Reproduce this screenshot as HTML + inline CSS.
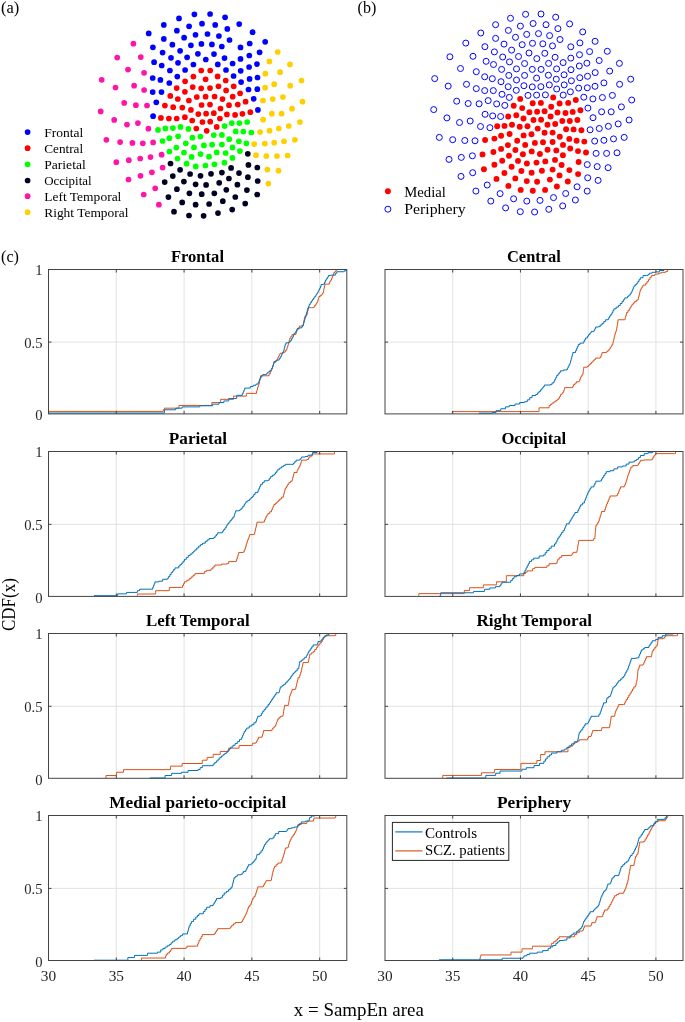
<!DOCTYPE html>
<html><head><meta charset="utf-8"><style>
html,body{margin:0;padding:0;background:#fff;}
body{width:685px;height:1022px;overflow:hidden;font-family:"Liberation Serif",serif;}
svg{display:block;will-change:transform;}
</style></head><body>
<svg width="685" height="1022" viewBox="0 0 685 1022" font-family="'Liberation Serif', serif"><text x="1.0" y="12.7" font-size="16.5" textLength="18.3" lengthAdjust="spacingAndGlyphs" fill="#000">(a)</text>
<text x="357.6" y="12.7" font-size="16.5" textLength="18.7" lengthAdjust="spacingAndGlyphs" fill="#000">(b)</text>
<text x="1.0" y="261.8" font-size="16.5" textLength="18.0" lengthAdjust="spacingAndGlyphs" fill="#000">(c)</text>
<circle cx="194.4" cy="14.3" r="2.85" fill="#0000ff"/>
<circle cx="210.1" cy="14.0" r="2.85" fill="#0000ff"/>
<circle cx="179.0" cy="18.4" r="2.85" fill="#0000ff"/>
<circle cx="225.1" cy="17.3" r="2.85" fill="#0000ff"/>
<circle cx="163.8" cy="24.9" r="2.85" fill="#0000ff"/>
<circle cx="189.1" cy="26.3" r="2.85" fill="#0000ff"/>
<circle cx="202.0" cy="23.7" r="2.85" fill="#0000ff"/>
<circle cx="215.2" cy="24.9" r="2.85" fill="#0000ff"/>
<circle cx="227.3" cy="28.9" r="2.85" fill="#0000ff"/>
<circle cx="176.9" cy="30.7" r="2.85" fill="#0000ff"/>
<circle cx="148.7" cy="33.4" r="2.85" fill="#0000ff"/>
<circle cx="195.5" cy="34.8" r="2.85" fill="#0000ff"/>
<circle cx="207.5" cy="34.0" r="2.85" fill="#0000ff"/>
<circle cx="218.9" cy="36.0" r="2.85" fill="#0000ff"/>
<circle cx="163.8" cy="38.9" r="2.85" fill="#0000ff"/>
<circle cx="184.1" cy="37.7" r="2.85" fill="#0000ff"/>
<circle cx="229.5" cy="40.0" r="2.85" fill="#0000ff"/>
<circle cx="172.4" cy="44.7" r="2.85" fill="#0000ff"/>
<circle cx="190.9" cy="45.3" r="2.85" fill="#0000ff"/>
<circle cx="201.4" cy="43.9" r="2.85" fill="#0000ff"/>
<circle cx="211.9" cy="44.4" r="2.85" fill="#0000ff"/>
<circle cx="221.8" cy="46.5" r="2.85" fill="#0000ff"/>
<circle cx="152.9" cy="47.3" r="2.85" fill="#0000ff"/>
<circle cx="180.1" cy="50.8" r="2.85" fill="#0000ff"/>
<circle cx="162.6" cy="52.6" r="2.85" fill="#0000ff"/>
<circle cx="197.9" cy="53.8" r="2.85" fill="#0000ff"/>
<circle cx="214.0" cy="54.1" r="2.85" fill="#0000ff"/>
<circle cx="171.0" cy="57.8" r="2.85" fill="#0000ff"/>
<circle cx="187.1" cy="57.3" r="2.85" fill="#0000ff"/>
<circle cx="205.8" cy="59.5" r="2.85" fill="#0000ff"/>
<circle cx="224.5" cy="58.1" r="2.85" fill="#0000ff"/>
<circle cx="154.1" cy="62.2" r="2.85" fill="#0000ff"/>
<circle cx="178.0" cy="62.8" r="2.85" fill="#0000ff"/>
<circle cx="193.4" cy="64.5" r="2.85" fill="#0000ff"/>
<circle cx="217.8" cy="64.4" r="2.85" fill="#0000ff"/>
<circle cx="161.7" cy="65.5" r="2.85" fill="#0000ff"/>
<circle cx="239.2" cy="24.1" r="2.85" fill="#0000ff"/>
<circle cx="252.6" cy="32.2" r="2.85" fill="#0000ff"/>
<circle cx="249.7" cy="43.5" r="2.85" fill="#0000ff"/>
<circle cx="265.2" cy="41.8" r="2.85" fill="#0000ff"/>
<circle cx="240.5" cy="47.4" r="2.85" fill="#0000ff"/>
<circle cx="259.6" cy="52.3" r="2.85" fill="#0000ff"/>
<circle cx="249.3" cy="55.5" r="2.85" fill="#0000ff"/>
<circle cx="240.5" cy="58.9" r="2.85" fill="#0000ff"/>
<circle cx="232.6" cy="63.5" r="2.85" fill="#0000ff"/>
<circle cx="256.9" cy="64.1" r="2.85" fill="#0000ff"/>
<circle cx="133.4" cy="43.7" r="2.85" fill="#ff14aa"/>
<circle cx="117.2" cy="57.6" r="2.85" fill="#ff14aa"/>
<circle cx="140.8" cy="57.1" r="2.85" fill="#ff14aa"/>
<circle cx="128.0" cy="69.6" r="2.85" fill="#ff14aa"/>
<circle cx="144.1" cy="72.8" r="2.85" fill="#ff14aa"/>
<circle cx="101.7" cy="79.8" r="2.85" fill="#ff14aa"/>
<circle cx="115.5" cy="87.5" r="2.85" fill="#ff14aa"/>
<circle cx="134.1" cy="85.7" r="2.85" fill="#ff14aa"/>
<circle cx="144.1" cy="90.0" r="2.85" fill="#ff14aa"/>
<circle cx="124.2" cy="102.9" r="2.85" fill="#ff14aa"/>
<circle cx="135.9" cy="105.2" r="2.85" fill="#ff14aa"/>
<circle cx="147.0" cy="105.5" r="2.85" fill="#ff14aa"/>
<circle cx="100.7" cy="111.4" r="2.85" fill="#ff14aa"/>
<circle cx="169.9" cy="70.5" r="2.85" fill="#0000ff"/>
<circle cx="152.7" cy="78.0" r="2.85" fill="#0000ff"/>
<circle cx="160.4" cy="79.9" r="2.85" fill="#0000ff"/>
<circle cx="152.7" cy="92.1" r="2.85" fill="#0000ff"/>
<circle cx="161.5" cy="92.1" r="2.85" fill="#0000ff"/>
<circle cx="156.3" cy="102.3" r="2.85" fill="#0000ff"/>
<circle cx="185.1" cy="70.0" r="2.85" fill="#0000ff"/>
<circle cx="226.0" cy="70.0" r="2.85" fill="#0000ff"/>
<circle cx="240.7" cy="70.8" r="2.85" fill="#0000ff"/>
<circle cx="177.3" cy="76.6" r="2.85" fill="#0000ff"/>
<circle cx="233.6" cy="76.0" r="2.85" fill="#0000ff"/>
<circle cx="169.3" cy="83.0" r="2.85" fill="#0000ff"/>
<circle cx="241.1" cy="82.1" r="2.85" fill="#0000ff"/>
<circle cx="249.1" cy="67.0" r="2.85" fill="#0000ff"/>
<circle cx="257.5" cy="77.5" r="2.85" fill="#0000ff"/>
<circle cx="249.6" cy="78.9" r="2.85" fill="#0000ff"/>
<circle cx="248.5" cy="89.5" r="2.85" fill="#0000ff"/>
<circle cx="257.3" cy="89.2" r="2.85" fill="#0000ff"/>
<circle cx="253.7" cy="98.8" r="2.85" fill="#0000ff"/>
<circle cx="257.9" cy="109.9" r="2.85" fill="#0000ff"/>
<circle cx="153.1" cy="116.2" r="2.85" fill="#0000ff"/>
<circle cx="201.2" cy="70.5" r="2.85" fill="#ff0000"/>
<circle cx="210.2" cy="70.5" r="2.85" fill="#ff0000"/>
<circle cx="193.4" cy="76.6" r="2.85" fill="#ff0000"/>
<circle cx="217.6" cy="76.4" r="2.85" fill="#ff0000"/>
<circle cx="185.1" cy="81.3" r="2.85" fill="#ff0000"/>
<circle cx="205.6" cy="79.3" r="2.85" fill="#ff0000"/>
<circle cx="225.7" cy="80.5" r="2.85" fill="#ff0000"/>
<circle cx="176.7" cy="88.1" r="2.85" fill="#ff0000"/>
<circle cx="192.7" cy="87.1" r="2.85" fill="#ff0000"/>
<circle cx="201.2" cy="88.3" r="2.85" fill="#ff0000"/>
<circle cx="210.0" cy="88.1" r="2.85" fill="#ff0000"/>
<circle cx="218.5" cy="86.3" r="2.85" fill="#ff0000"/>
<circle cx="233.7" cy="86.3" r="2.85" fill="#ff0000"/>
<circle cx="184.9" cy="91.8" r="2.85" fill="#ff0000"/>
<circle cx="226.1" cy="90.4" r="2.85" fill="#ff0000"/>
<circle cx="240.1" cy="93.3" r="2.85" fill="#ff0000"/>
<circle cx="170.3" cy="95.9" r="2.85" fill="#ff0000"/>
<circle cx="196.8" cy="97.0" r="2.85" fill="#ff0000"/>
<circle cx="205.6" cy="96.7" r="2.85" fill="#ff0000"/>
<circle cx="214.6" cy="96.5" r="2.85" fill="#ff0000"/>
<circle cx="177.8" cy="99.0" r="2.85" fill="#ff0000"/>
<circle cx="188.9" cy="100.5" r="2.85" fill="#ff0000"/>
<circle cx="222.5" cy="99.1" r="2.85" fill="#ff0000"/>
<circle cx="232.7" cy="96.7" r="2.85" fill="#ff0000"/>
<circle cx="245.6" cy="101.7" r="2.85" fill="#ff0000"/>
<circle cx="164.9" cy="105.6" r="2.85" fill="#ff0000"/>
<circle cx="173.2" cy="107.2" r="2.85" fill="#ff0000"/>
<circle cx="182.3" cy="107.6" r="2.85" fill="#ff0000"/>
<circle cx="201.6" cy="105.0" r="2.85" fill="#ff0000"/>
<circle cx="210.0" cy="104.6" r="2.85" fill="#ff0000"/>
<circle cx="229.0" cy="105.2" r="2.85" fill="#ff0000"/>
<circle cx="237.8" cy="104.6" r="2.85" fill="#ff0000"/>
<circle cx="190.9" cy="109.9" r="2.85" fill="#ff0000"/>
<circle cx="220.5" cy="108.5" r="2.85" fill="#ff0000"/>
<circle cx="198.3" cy="114.1" r="2.85" fill="#ff0000"/>
<circle cx="206.1" cy="113.7" r="2.85" fill="#ff0000"/>
<circle cx="213.8" cy="113.2" r="2.85" fill="#ff0000"/>
<circle cx="226.9" cy="114.4" r="2.85" fill="#ff0000"/>
<circle cx="235.1" cy="114.9" r="2.85" fill="#ff0000"/>
<circle cx="242.4" cy="113.8" r="2.85" fill="#ff0000"/>
<circle cx="250.3" cy="112.2" r="2.85" fill="#ff0000"/>
<circle cx="160.9" cy="117.9" r="2.85" fill="#ff0000"/>
<circle cx="168.9" cy="118.5" r="2.85" fill="#ff0000"/>
<circle cx="176.7" cy="118.5" r="2.85" fill="#ff0000"/>
<circle cx="184.9" cy="117.2" r="2.85" fill="#ff0000"/>
<circle cx="192.2" cy="120.5" r="2.85" fill="#ff0000"/>
<circle cx="202.4" cy="122.0" r="2.85" fill="#ff0000"/>
<circle cx="210.2" cy="121.7" r="2.85" fill="#ff0000"/>
<circle cx="219.9" cy="118.5" r="2.85" fill="#ff0000"/>
<circle cx="196.3" cy="128.5" r="2.85" fill="#ff0000"/>
<circle cx="206.7" cy="130.8" r="2.85" fill="#ff0000"/>
<circle cx="216.7" cy="126.9" r="2.85" fill="#ff0000"/>
<circle cx="269.4" cy="61.4" r="2.85" fill="#ffd000"/>
<circle cx="277.7" cy="52.0" r="2.85" fill="#ffd000"/>
<circle cx="290.0" cy="64.4" r="2.85" fill="#ffd000"/>
<circle cx="265.3" cy="73.7" r="2.85" fill="#ffd000"/>
<circle cx="280.1" cy="72.2" r="2.85" fill="#ffd000"/>
<circle cx="301.5" cy="80.5" r="2.85" fill="#ffd000"/>
<circle cx="274.2" cy="84.2" r="2.85" fill="#ffd000"/>
<circle cx="290.2" cy="85.7" r="2.85" fill="#ffd000"/>
<circle cx="265.1" cy="87.7" r="2.85" fill="#ffd000"/>
<circle cx="282.9" cy="97.0" r="2.85" fill="#ffd000"/>
<circle cx="272.7" cy="99.1" r="2.85" fill="#ffd000"/>
<circle cx="263.0" cy="100.5" r="2.85" fill="#ffd000"/>
<circle cx="302.5" cy="101.7" r="2.85" fill="#ffd000"/>
<circle cx="292.0" cy="108.7" r="2.85" fill="#ffd000"/>
<circle cx="271.9" cy="113.7" r="2.85" fill="#ffd000"/>
<circle cx="281.6" cy="113.7" r="2.85" fill="#ffd000"/>
<circle cx="263.1" cy="119.7" r="2.85" fill="#ffd000"/>
<circle cx="299.9" cy="122.0" r="2.85" fill="#ffd000"/>
<circle cx="260.1" cy="132.0" r="2.85" fill="#ffd000"/>
<circle cx="269.5" cy="130.7" r="2.85" fill="#ffd000"/>
<circle cx="278.8" cy="128.5" r="2.85" fill="#ffd000"/>
<circle cx="288.8" cy="126.0" r="2.85" fill="#ffd000"/>
<circle cx="254.2" cy="144.1" r="2.85" fill="#ffd000"/>
<circle cx="264.8" cy="143.6" r="2.85" fill="#ffd000"/>
<circle cx="274.2" cy="142.7" r="2.85" fill="#ffd000"/>
<circle cx="284.0" cy="141.3" r="2.85" fill="#ffd000"/>
<circle cx="294.9" cy="139.8" r="2.85" fill="#ffd000"/>
<circle cx="256.0" cy="155.2" r="2.85" fill="#ffd000"/>
<circle cx="266.3" cy="156.1" r="2.85" fill="#ffd000"/>
<circle cx="277.0" cy="156.1" r="2.85" fill="#ffd000"/>
<circle cx="287.6" cy="155.5" r="2.85" fill="#ffd000"/>
<circle cx="267.4" cy="169.6" r="2.85" fill="#ffd000"/>
<circle cx="278.5" cy="170.7" r="2.85" fill="#ffd000"/>
<circle cx="268.3" cy="183.6" r="2.85" fill="#ffd000"/>
<circle cx="114.2" cy="119.9" r="2.85" fill="#ff14aa"/>
<circle cx="127.0" cy="124.6" r="2.85" fill="#ff14aa"/>
<circle cx="137.9" cy="123.1" r="2.85" fill="#ff14aa"/>
<circle cx="148.4" cy="128.7" r="2.85" fill="#ff14aa"/>
<circle cx="106.4" cy="139.8" r="2.85" fill="#ff14aa"/>
<circle cx="120.1" cy="142.1" r="2.85" fill="#ff14aa"/>
<circle cx="132.4" cy="142.9" r="2.85" fill="#ff14aa"/>
<circle cx="142.8" cy="143.3" r="2.85" fill="#ff14aa"/>
<circle cx="153.1" cy="142.4" r="2.85" fill="#ff14aa"/>
<circle cx="161.6" cy="154.7" r="2.85" fill="#ff14aa"/>
<circle cx="116.3" cy="162.2" r="2.85" fill="#ff14aa"/>
<circle cx="128.8" cy="160.2" r="2.85" fill="#ff14aa"/>
<circle cx="140.2" cy="158.5" r="2.85" fill="#ff14aa"/>
<circle cx="150.5" cy="157.1" r="2.85" fill="#ff14aa"/>
<circle cx="162.6" cy="167.6" r="2.85" fill="#ff14aa"/>
<circle cx="151.9" cy="172.3" r="2.85" fill="#ff14aa"/>
<circle cx="140.5" cy="175.8" r="2.85" fill="#ff14aa"/>
<circle cx="128.5" cy="179.5" r="2.85" fill="#ff14aa"/>
<circle cx="155.2" cy="188.3" r="2.85" fill="#ff14aa"/>
<circle cx="143.7" cy="194.5" r="2.85" fill="#ff14aa"/>
<circle cx="158.9" cy="204.7" r="2.85" fill="#ff14aa"/>
<circle cx="158.0" cy="129.9" r="2.85" fill="#00ff00"/>
<circle cx="165.4" cy="128.4" r="2.85" fill="#00ff00"/>
<circle cx="162.6" cy="141.0" r="2.85" fill="#00ff00"/>
<circle cx="172.9" cy="128.1" r="2.85" fill="#00ff00"/>
<circle cx="180.5" cy="126.9" r="2.85" fill="#00ff00"/>
<circle cx="188.4" cy="128.9" r="2.85" fill="#00ff00"/>
<circle cx="224.6" cy="126.1" r="2.85" fill="#00ff00"/>
<circle cx="231.8" cy="123.1" r="2.85" fill="#00ff00"/>
<circle cx="239.4" cy="123.1" r="2.85" fill="#00ff00"/>
<circle cx="235.7" cy="131.4" r="2.85" fill="#00ff00"/>
<circle cx="243.3" cy="131.6" r="2.85" fill="#00ff00"/>
<circle cx="169.4" cy="138.2" r="2.85" fill="#00ff00"/>
<circle cx="178.1" cy="136.3" r="2.85" fill="#00ff00"/>
<circle cx="192.4" cy="137.7" r="2.85" fill="#00ff00"/>
<circle cx="200.4" cy="136.6" r="2.85" fill="#00ff00"/>
<circle cx="213.8" cy="135.1" r="2.85" fill="#00ff00"/>
<circle cx="221.9" cy="134.9" r="2.85" fill="#00ff00"/>
<circle cx="229.2" cy="139.2" r="2.85" fill="#00ff00"/>
<circle cx="238.9" cy="141.3" r="2.85" fill="#00ff00"/>
<circle cx="185.8" cy="143.3" r="2.85" fill="#00ff00"/>
<circle cx="203.9" cy="145.4" r="2.85" fill="#00ff00"/>
<circle cx="212.1" cy="144.7" r="2.85" fill="#00ff00"/>
<circle cx="221.9" cy="144.5" r="2.85" fill="#00ff00"/>
<circle cx="176.3" cy="147.6" r="2.85" fill="#00ff00"/>
<circle cx="194.0" cy="147.4" r="2.85" fill="#00ff00"/>
<circle cx="232.5" cy="147.4" r="2.85" fill="#00ff00"/>
<circle cx="169.4" cy="151.5" r="2.85" fill="#00ff00"/>
<circle cx="184.0" cy="152.6" r="2.85" fill="#00ff00"/>
<circle cx="200.6" cy="154.1" r="2.85" fill="#00ff00"/>
<circle cx="216.7" cy="152.4" r="2.85" fill="#00ff00"/>
<circle cx="225.7" cy="153.0" r="2.85" fill="#00ff00"/>
<circle cx="239.9" cy="151.1" r="2.85" fill="#00ff00"/>
<circle cx="177.5" cy="158.5" r="2.85" fill="#00ff00"/>
<circle cx="191.6" cy="156.9" r="2.85" fill="#00ff00"/>
<circle cx="209.0" cy="156.7" r="2.85" fill="#00ff00"/>
<circle cx="232.4" cy="157.9" r="2.85" fill="#00ff00"/>
<circle cx="186.6" cy="163.7" r="2.85" fill="#00ff00"/>
<circle cx="195.7" cy="166.4" r="2.85" fill="#00ff00"/>
<circle cx="205.5" cy="165.5" r="2.85" fill="#00ff00"/>
<circle cx="214.5" cy="164.3" r="2.85" fill="#00ff00"/>
<circle cx="224.4" cy="162.7" r="2.85" fill="#00ff00"/>
<circle cx="247.2" cy="122.0" r="2.85" fill="#00ff00"/>
<circle cx="251.3" cy="132.5" r="2.85" fill="#00ff00"/>
<circle cx="246.4" cy="143.3" r="2.85" fill="#00ff00"/>
<circle cx="170.5" cy="163.5" r="2.85" fill="#000022"/>
<circle cx="180.1" cy="169.8" r="2.85" fill="#000022"/>
<circle cx="231.1" cy="167.9" r="2.85" fill="#000022"/>
<circle cx="247.8" cy="153.8" r="2.85" fill="#000022"/>
<circle cx="248.4" cy="164.9" r="2.85" fill="#000022"/>
<circle cx="257.3" cy="167.5" r="2.85" fill="#000022"/>
<circle cx="172.8" cy="176.1" r="2.85" fill="#000022"/>
<circle cx="190.1" cy="174.0" r="2.85" fill="#000022"/>
<circle cx="200.5" cy="175.8" r="2.85" fill="#000022"/>
<circle cx="211.0" cy="173.8" r="2.85" fill="#000022"/>
<circle cx="221.9" cy="172.6" r="2.85" fill="#000022"/>
<circle cx="239.0" cy="173.1" r="2.85" fill="#000022"/>
<circle cx="228.9" cy="178.5" r="2.85" fill="#000022"/>
<circle cx="164.7" cy="182.1" r="2.85" fill="#000022"/>
<circle cx="183.9" cy="181.6" r="2.85" fill="#000022"/>
<circle cx="195.6" cy="184.3" r="2.85" fill="#000022"/>
<circle cx="206.1" cy="184.9" r="2.85" fill="#000022"/>
<circle cx="219.2" cy="182.8" r="2.85" fill="#000022"/>
<circle cx="237.4" cy="184.7" r="2.85" fill="#000022"/>
<circle cx="176.9" cy="189.2" r="2.85" fill="#000022"/>
<circle cx="189.4" cy="193.3" r="2.85" fill="#000022"/>
<circle cx="201.7" cy="194.2" r="2.85" fill="#000022"/>
<circle cx="214.3" cy="193.3" r="2.85" fill="#000022"/>
<circle cx="226.3" cy="189.8" r="2.85" fill="#000022"/>
<circle cx="168.4" cy="197.1" r="2.85" fill="#000022"/>
<circle cx="235.3" cy="197.0" r="2.85" fill="#000022"/>
<circle cx="182.2" cy="202.4" r="2.85" fill="#000022"/>
<circle cx="195.6" cy="204.7" r="2.85" fill="#000022"/>
<circle cx="209.1" cy="204.0" r="2.85" fill="#000022"/>
<circle cx="222.8" cy="201.2" r="2.85" fill="#000022"/>
<circle cx="174.0" cy="211.7" r="2.85" fill="#000022"/>
<circle cx="189.0" cy="215.5" r="2.85" fill="#000022"/>
<circle cx="203.6" cy="215.8" r="2.85" fill="#000022"/>
<circle cx="218.0" cy="213.1" r="2.85" fill="#000022"/>
<circle cx="232.2" cy="209.6" r="2.85" fill="#000022"/>
<circle cx="247.9" cy="177.2" r="2.85" fill="#000022"/>
<circle cx="257.7" cy="181.0" r="2.85" fill="#000022"/>
<circle cx="246.9" cy="190.1" r="2.85" fill="#000022"/>
<circle cx="257.2" cy="194.5" r="2.85" fill="#000022"/>
<circle cx="245.2" cy="203.6" r="2.85" fill="#000022"/>
<circle cx="27.6" cy="132.1" r="2.85" fill="#0000ff"/>
<text x="44.2" y="136.7" font-size="13.3" textLength="39.1" lengthAdjust="spacingAndGlyphs" fill="#000">Frontal</text>
<circle cx="27.6" cy="148.2" r="2.85" fill="#ff0000"/>
<text x="44.2" y="152.79999999999998" font-size="13.3" textLength="39.0" lengthAdjust="spacingAndGlyphs" fill="#000">Central</text>
<circle cx="27.6" cy="164.3" r="2.85" fill="#00ff00"/>
<text x="44.2" y="168.9" font-size="13.3" textLength="41.6" lengthAdjust="spacingAndGlyphs" fill="#000">Parietal</text>
<circle cx="27.6" cy="180.5" r="2.85" fill="#000022"/>
<text x="44.2" y="185.1" font-size="13.3" textLength="47.4" lengthAdjust="spacingAndGlyphs" fill="#000">Occipital</text>
<circle cx="27.6" cy="196.2" r="2.85" fill="#ff14aa"/>
<text x="44.2" y="200.79999999999998" font-size="13.3" textLength="77.2" lengthAdjust="spacingAndGlyphs" fill="#000">Left Temporal</text>
<circle cx="27.6" cy="212.2" r="2.85" fill="#ffd000"/>
<text x="44.2" y="216.79999999999998" font-size="13.3" textLength="84.3" lengthAdjust="spacingAndGlyphs" fill="#000">Right Temporal</text>
<circle cx="525.6" cy="14.3" r="3.0" fill="none" stroke="#0000ff" stroke-width="1"/>
<circle cx="541.0" cy="14.0" r="3.0" fill="none" stroke="#0000ff" stroke-width="1"/>
<circle cx="510.5" cy="18.3" r="3.0" fill="none" stroke="#0000ff" stroke-width="1"/>
<circle cx="555.7" cy="17.2" r="3.0" fill="none" stroke="#0000ff" stroke-width="1"/>
<circle cx="495.6" cy="24.7" r="3.0" fill="none" stroke="#0000ff" stroke-width="1"/>
<circle cx="520.4" cy="26.1" r="3.0" fill="none" stroke="#0000ff" stroke-width="1"/>
<circle cx="533.1" cy="23.5" r="3.0" fill="none" stroke="#0000ff" stroke-width="1"/>
<circle cx="546.0" cy="24.7" r="3.0" fill="none" stroke="#0000ff" stroke-width="1"/>
<circle cx="557.9" cy="28.6" r="3.0" fill="none" stroke="#0000ff" stroke-width="1"/>
<circle cx="508.4" cy="30.4" r="3.0" fill="none" stroke="#0000ff" stroke-width="1"/>
<circle cx="480.8" cy="33.0" r="3.0" fill="none" stroke="#0000ff" stroke-width="1"/>
<circle cx="526.7" cy="34.4" r="3.0" fill="none" stroke="#0000ff" stroke-width="1"/>
<circle cx="538.5" cy="33.6" r="3.0" fill="none" stroke="#0000ff" stroke-width="1"/>
<circle cx="549.6" cy="35.6" r="3.0" fill="none" stroke="#0000ff" stroke-width="1"/>
<circle cx="495.6" cy="38.4" r="3.0" fill="none" stroke="#0000ff" stroke-width="1"/>
<circle cx="515.5" cy="37.3" r="3.0" fill="none" stroke="#0000ff" stroke-width="1"/>
<circle cx="560.0" cy="39.5" r="3.0" fill="none" stroke="#0000ff" stroke-width="1"/>
<circle cx="504.0" cy="44.1" r="3.0" fill="none" stroke="#0000ff" stroke-width="1"/>
<circle cx="522.2" cy="44.7" r="3.0" fill="none" stroke="#0000ff" stroke-width="1"/>
<circle cx="532.5" cy="43.3" r="3.0" fill="none" stroke="#0000ff" stroke-width="1"/>
<circle cx="542.8" cy="43.8" r="3.0" fill="none" stroke="#0000ff" stroke-width="1"/>
<circle cx="552.5" cy="45.9" r="3.0" fill="none" stroke="#0000ff" stroke-width="1"/>
<circle cx="484.9" cy="46.7" r="3.0" fill="none" stroke="#0000ff" stroke-width="1"/>
<circle cx="511.6" cy="50.1" r="3.0" fill="none" stroke="#0000ff" stroke-width="1"/>
<circle cx="494.4" cy="51.9" r="3.0" fill="none" stroke="#0000ff" stroke-width="1"/>
<circle cx="529.0" cy="53.0" r="3.0" fill="none" stroke="#0000ff" stroke-width="1"/>
<circle cx="544.8" cy="53.3" r="3.0" fill="none" stroke="#0000ff" stroke-width="1"/>
<circle cx="502.7" cy="57.0" r="3.0" fill="none" stroke="#0000ff" stroke-width="1"/>
<circle cx="518.5" cy="56.5" r="3.0" fill="none" stroke="#0000ff" stroke-width="1"/>
<circle cx="536.8" cy="58.6" r="3.0" fill="none" stroke="#0000ff" stroke-width="1"/>
<circle cx="555.1" cy="57.3" r="3.0" fill="none" stroke="#0000ff" stroke-width="1"/>
<circle cx="486.1" cy="61.3" r="3.0" fill="none" stroke="#0000ff" stroke-width="1"/>
<circle cx="509.5" cy="61.9" r="3.0" fill="none" stroke="#0000ff" stroke-width="1"/>
<circle cx="524.6" cy="63.5" r="3.0" fill="none" stroke="#0000ff" stroke-width="1"/>
<circle cx="548.6" cy="63.4" r="3.0" fill="none" stroke="#0000ff" stroke-width="1"/>
<circle cx="493.5" cy="64.5" r="3.0" fill="none" stroke="#0000ff" stroke-width="1"/>
<circle cx="569.6" cy="23.9" r="3.0" fill="none" stroke="#0000ff" stroke-width="1"/>
<circle cx="582.7" cy="31.9" r="3.0" fill="none" stroke="#0000ff" stroke-width="1"/>
<circle cx="579.9" cy="42.9" r="3.0" fill="none" stroke="#0000ff" stroke-width="1"/>
<circle cx="595.1" cy="41.3" r="3.0" fill="none" stroke="#0000ff" stroke-width="1"/>
<circle cx="570.8" cy="46.8" r="3.0" fill="none" stroke="#0000ff" stroke-width="1"/>
<circle cx="589.6" cy="51.6" r="3.0" fill="none" stroke="#0000ff" stroke-width="1"/>
<circle cx="579.5" cy="54.7" r="3.0" fill="none" stroke="#0000ff" stroke-width="1"/>
<circle cx="570.8" cy="58.1" r="3.0" fill="none" stroke="#0000ff" stroke-width="1"/>
<circle cx="563.1" cy="62.6" r="3.0" fill="none" stroke="#0000ff" stroke-width="1"/>
<circle cx="586.9" cy="63.2" r="3.0" fill="none" stroke="#0000ff" stroke-width="1"/>
<circle cx="465.8" cy="43.1" r="3.0" fill="none" stroke="#0000ff" stroke-width="1"/>
<circle cx="449.9" cy="56.8" r="3.0" fill="none" stroke="#0000ff" stroke-width="1"/>
<circle cx="473.0" cy="56.3" r="3.0" fill="none" stroke="#0000ff" stroke-width="1"/>
<circle cx="460.5" cy="68.5" r="3.0" fill="none" stroke="#0000ff" stroke-width="1"/>
<circle cx="476.3" cy="71.7" r="3.0" fill="none" stroke="#0000ff" stroke-width="1"/>
<circle cx="434.7" cy="78.6" r="3.0" fill="none" stroke="#0000ff" stroke-width="1"/>
<circle cx="448.2" cy="86.1" r="3.0" fill="none" stroke="#0000ff" stroke-width="1"/>
<circle cx="466.5" cy="84.3" r="3.0" fill="none" stroke="#0000ff" stroke-width="1"/>
<circle cx="476.3" cy="88.6" r="3.0" fill="none" stroke="#0000ff" stroke-width="1"/>
<circle cx="456.7" cy="101.2" r="3.0" fill="none" stroke="#0000ff" stroke-width="1"/>
<circle cx="468.2" cy="103.5" r="3.0" fill="none" stroke="#0000ff" stroke-width="1"/>
<circle cx="479.1" cy="103.8" r="3.0" fill="none" stroke="#0000ff" stroke-width="1"/>
<circle cx="433.7" cy="109.6" r="3.0" fill="none" stroke="#0000ff" stroke-width="1"/>
<circle cx="501.6" cy="69.4" r="3.0" fill="none" stroke="#0000ff" stroke-width="1"/>
<circle cx="484.7" cy="76.8" r="3.0" fill="none" stroke="#0000ff" stroke-width="1"/>
<circle cx="492.3" cy="78.7" r="3.0" fill="none" stroke="#0000ff" stroke-width="1"/>
<circle cx="484.7" cy="90.6" r="3.0" fill="none" stroke="#0000ff" stroke-width="1"/>
<circle cx="493.3" cy="90.6" r="3.0" fill="none" stroke="#0000ff" stroke-width="1"/>
<circle cx="488.2" cy="100.6" r="3.0" fill="none" stroke="#0000ff" stroke-width="1"/>
<circle cx="516.5" cy="68.9" r="3.0" fill="none" stroke="#0000ff" stroke-width="1"/>
<circle cx="556.6" cy="68.9" r="3.0" fill="none" stroke="#0000ff" stroke-width="1"/>
<circle cx="571.0" cy="69.7" r="3.0" fill="none" stroke="#0000ff" stroke-width="1"/>
<circle cx="508.8" cy="75.4" r="3.0" fill="none" stroke="#0000ff" stroke-width="1"/>
<circle cx="564.1" cy="74.8" r="3.0" fill="none" stroke="#0000ff" stroke-width="1"/>
<circle cx="501.0" cy="81.7" r="3.0" fill="none" stroke="#0000ff" stroke-width="1"/>
<circle cx="571.4" cy="80.8" r="3.0" fill="none" stroke="#0000ff" stroke-width="1"/>
<circle cx="579.3" cy="66.0" r="3.0" fill="none" stroke="#0000ff" stroke-width="1"/>
<circle cx="587.5" cy="76.3" r="3.0" fill="none" stroke="#0000ff" stroke-width="1"/>
<circle cx="579.8" cy="77.7" r="3.0" fill="none" stroke="#0000ff" stroke-width="1"/>
<circle cx="578.7" cy="88.1" r="3.0" fill="none" stroke="#0000ff" stroke-width="1"/>
<circle cx="587.3" cy="87.8" r="3.0" fill="none" stroke="#0000ff" stroke-width="1"/>
<circle cx="583.8" cy="97.2" r="3.0" fill="none" stroke="#0000ff" stroke-width="1"/>
<circle cx="587.9" cy="108.1" r="3.0" fill="none" stroke="#0000ff" stroke-width="1"/>
<circle cx="485.1" cy="114.3" r="3.0" fill="none" stroke="#0000ff" stroke-width="1"/>
<circle cx="532.3" cy="69.4" r="3.0" fill="none" stroke="#0000ff" stroke-width="1"/>
<circle cx="541.1" cy="69.4" r="3.0" fill="none" stroke="#0000ff" stroke-width="1"/>
<circle cx="524.6" cy="75.4" r="3.0" fill="none" stroke="#0000ff" stroke-width="1"/>
<circle cx="548.4" cy="75.2" r="3.0" fill="none" stroke="#0000ff" stroke-width="1"/>
<circle cx="516.5" cy="80.0" r="3.0" fill="none" stroke="#0000ff" stroke-width="1"/>
<circle cx="536.6" cy="78.1" r="3.0" fill="none" stroke="#0000ff" stroke-width="1"/>
<circle cx="556.3" cy="79.2" r="3.0" fill="none" stroke="#0000ff" stroke-width="1"/>
<circle cx="508.2" cy="86.7" r="3.0" fill="none" stroke="#0000ff" stroke-width="1"/>
<circle cx="523.9" cy="85.7" r="3.0" fill="none" stroke="#0000ff" stroke-width="1"/>
<circle cx="532.3" cy="86.9" r="3.0" fill="none" stroke="#0000ff" stroke-width="1"/>
<circle cx="540.9" cy="86.7" r="3.0" fill="none" stroke="#0000ff" stroke-width="1"/>
<circle cx="549.3" cy="84.9" r="3.0" fill="none" stroke="#0000ff" stroke-width="1"/>
<circle cx="564.2" cy="84.9" r="3.0" fill="none" stroke="#0000ff" stroke-width="1"/>
<circle cx="516.3" cy="90.3" r="3.0" fill="none" stroke="#0000ff" stroke-width="1"/>
<circle cx="556.7" cy="89.0" r="3.0" fill="none" stroke="#0000ff" stroke-width="1"/>
<circle cx="570.4" cy="91.8" r="3.0" fill="none" stroke="#0000ff" stroke-width="1"/>
<circle cx="502.0" cy="94.3" r="3.0" fill="none" stroke="#0000ff" stroke-width="1"/>
<circle cx="528.0" cy="95.4" r="3.0" fill="none" stroke="#0000ff" stroke-width="1"/>
<circle cx="536.6" cy="95.1" r="3.0" fill="none" stroke="#0000ff" stroke-width="1"/>
<circle cx="545.4" cy="94.9" r="3.0" fill="none" stroke="#0000ff" stroke-width="1"/>
<circle cx="509.3" cy="97.4" r="3.0" fill="none" stroke="#0000ff" stroke-width="1"/>
<circle cx="520.2" cy="98.9" r="2.95" fill="#ff0000"/>
<circle cx="553.2" cy="97.5" r="2.95" fill="#ff0000"/>
<circle cx="563.2" cy="95.1" r="3.0" fill="none" stroke="#0000ff" stroke-width="1"/>
<circle cx="575.8" cy="100.0" r="2.95" fill="#ff0000"/>
<circle cx="496.7" cy="103.9" r="3.0" fill="none" stroke="#0000ff" stroke-width="1"/>
<circle cx="504.8" cy="105.4" r="3.0" fill="none" stroke="#0000ff" stroke-width="1"/>
<circle cx="513.7" cy="105.8" r="2.95" fill="#ff0000"/>
<circle cx="532.7" cy="103.3" r="2.95" fill="#ff0000"/>
<circle cx="540.9" cy="102.9" r="2.95" fill="#ff0000"/>
<circle cx="559.6" cy="103.5" r="2.95" fill="#ff0000"/>
<circle cx="568.2" cy="102.9" r="2.95" fill="#ff0000"/>
<circle cx="522.2" cy="108.1" r="2.95" fill="#ff0000"/>
<circle cx="551.2" cy="106.7" r="2.95" fill="#ff0000"/>
<circle cx="529.4" cy="112.2" r="2.95" fill="#ff0000"/>
<circle cx="537.1" cy="111.8" r="2.95" fill="#ff0000"/>
<circle cx="544.6" cy="111.3" r="2.95" fill="#ff0000"/>
<circle cx="557.5" cy="112.5" r="2.95" fill="#ff0000"/>
<circle cx="565.5" cy="113.0" r="2.95" fill="#ff0000"/>
<circle cx="572.7" cy="111.9" r="2.95" fill="#ff0000"/>
<circle cx="580.4" cy="110.3" r="2.95" fill="#ff0000"/>
<circle cx="492.7" cy="115.9" r="3.0" fill="none" stroke="#0000ff" stroke-width="1"/>
<circle cx="500.6" cy="116.5" r="3.0" fill="none" stroke="#0000ff" stroke-width="1"/>
<circle cx="508.2" cy="116.5" r="2.95" fill="#ff0000"/>
<circle cx="516.3" cy="115.2" r="2.95" fill="#ff0000"/>
<circle cx="523.5" cy="118.5" r="2.95" fill="#ff0000"/>
<circle cx="533.5" cy="120.0" r="2.95" fill="#ff0000"/>
<circle cx="541.1" cy="119.7" r="2.95" fill="#ff0000"/>
<circle cx="550.6" cy="116.5" r="2.95" fill="#ff0000"/>
<circle cx="527.5" cy="126.3" r="2.95" fill="#ff0000"/>
<circle cx="537.7" cy="128.6" r="2.95" fill="#ff0000"/>
<circle cx="547.5" cy="124.8" r="2.95" fill="#ff0000"/>
<circle cx="599.2" cy="60.5" r="3.0" fill="none" stroke="#0000ff" stroke-width="1"/>
<circle cx="607.3" cy="51.3" r="3.0" fill="none" stroke="#0000ff" stroke-width="1"/>
<circle cx="619.4" cy="63.4" r="3.0" fill="none" stroke="#0000ff" stroke-width="1"/>
<circle cx="595.2" cy="72.6" r="3.0" fill="none" stroke="#0000ff" stroke-width="1"/>
<circle cx="609.7" cy="71.1" r="3.0" fill="none" stroke="#0000ff" stroke-width="1"/>
<circle cx="630.7" cy="79.2" r="3.0" fill="none" stroke="#0000ff" stroke-width="1"/>
<circle cx="603.9" cy="82.9" r="3.0" fill="none" stroke="#0000ff" stroke-width="1"/>
<circle cx="619.6" cy="84.3" r="3.0" fill="none" stroke="#0000ff" stroke-width="1"/>
<circle cx="595.0" cy="86.3" r="3.0" fill="none" stroke="#0000ff" stroke-width="1"/>
<circle cx="612.4" cy="95.4" r="3.0" fill="none" stroke="#0000ff" stroke-width="1"/>
<circle cx="602.4" cy="97.5" r="3.0" fill="none" stroke="#0000ff" stroke-width="1"/>
<circle cx="592.9" cy="98.9" r="3.0" fill="none" stroke="#0000ff" stroke-width="1"/>
<circle cx="631.7" cy="100.0" r="3.0" fill="none" stroke="#0000ff" stroke-width="1"/>
<circle cx="621.4" cy="106.9" r="3.0" fill="none" stroke="#0000ff" stroke-width="1"/>
<circle cx="601.6" cy="111.8" r="3.0" fill="none" stroke="#0000ff" stroke-width="1"/>
<circle cx="611.2" cy="111.8" r="3.0" fill="none" stroke="#0000ff" stroke-width="1"/>
<circle cx="593.0" cy="117.7" r="3.0" fill="none" stroke="#0000ff" stroke-width="1"/>
<circle cx="629.1" cy="120.0" r="3.0" fill="none" stroke="#0000ff" stroke-width="1"/>
<circle cx="590.1" cy="129.8" r="3.0" fill="none" stroke="#0000ff" stroke-width="1"/>
<circle cx="599.3" cy="128.5" r="3.0" fill="none" stroke="#0000ff" stroke-width="1"/>
<circle cx="608.4" cy="126.3" r="3.0" fill="none" stroke="#0000ff" stroke-width="1"/>
<circle cx="618.2" cy="123.9" r="3.0" fill="none" stroke="#0000ff" stroke-width="1"/>
<circle cx="584.3" cy="141.6" r="2.95" fill="#ff0000"/>
<circle cx="594.7" cy="141.1" r="3.0" fill="none" stroke="#0000ff" stroke-width="1"/>
<circle cx="603.9" cy="140.3" r="3.0" fill="none" stroke="#0000ff" stroke-width="1"/>
<circle cx="613.5" cy="138.9" r="3.0" fill="none" stroke="#0000ff" stroke-width="1"/>
<circle cx="624.2" cy="137.4" r="3.0" fill="none" stroke="#0000ff" stroke-width="1"/>
<circle cx="586.0" cy="152.5" r="2.95" fill="#ff0000"/>
<circle cx="596.1" cy="153.4" r="3.0" fill="none" stroke="#0000ff" stroke-width="1"/>
<circle cx="606.6" cy="153.4" r="3.0" fill="none" stroke="#0000ff" stroke-width="1"/>
<circle cx="617.0" cy="152.8" r="3.0" fill="none" stroke="#0000ff" stroke-width="1"/>
<circle cx="597.2" cy="166.6" r="3.0" fill="none" stroke="#0000ff" stroke-width="1"/>
<circle cx="608.1" cy="167.7" r="3.0" fill="none" stroke="#0000ff" stroke-width="1"/>
<circle cx="598.1" cy="180.4" r="3.0" fill="none" stroke="#0000ff" stroke-width="1"/>
<circle cx="446.9" cy="117.9" r="3.0" fill="none" stroke="#0000ff" stroke-width="1"/>
<circle cx="459.5" cy="122.5" r="3.0" fill="none" stroke="#0000ff" stroke-width="1"/>
<circle cx="470.2" cy="121.0" r="3.0" fill="none" stroke="#0000ff" stroke-width="1"/>
<circle cx="480.5" cy="126.5" r="3.0" fill="none" stroke="#0000ff" stroke-width="1"/>
<circle cx="439.3" cy="137.4" r="3.0" fill="none" stroke="#0000ff" stroke-width="1"/>
<circle cx="452.7" cy="139.7" r="3.0" fill="none" stroke="#0000ff" stroke-width="1"/>
<circle cx="464.8" cy="140.5" r="3.0" fill="none" stroke="#0000ff" stroke-width="1"/>
<circle cx="475.0" cy="140.8" r="3.0" fill="none" stroke="#0000ff" stroke-width="1"/>
<circle cx="485.1" cy="140.0" r="2.95" fill="#ff0000"/>
<circle cx="493.4" cy="152.0" r="2.95" fill="#ff0000"/>
<circle cx="449.0" cy="159.4" r="3.0" fill="none" stroke="#0000ff" stroke-width="1"/>
<circle cx="461.3" cy="157.4" r="3.0" fill="none" stroke="#0000ff" stroke-width="1"/>
<circle cx="472.4" cy="155.8" r="3.0" fill="none" stroke="#0000ff" stroke-width="1"/>
<circle cx="482.5" cy="154.4" r="2.95" fill="#ff0000"/>
<circle cx="494.4" cy="164.7" r="2.95" fill="#ff0000"/>
<circle cx="483.9" cy="169.3" r="2.95" fill="#ff0000"/>
<circle cx="472.7" cy="172.7" r="3.0" fill="none" stroke="#0000ff" stroke-width="1"/>
<circle cx="461.0" cy="176.4" r="3.0" fill="none" stroke="#0000ff" stroke-width="1"/>
<circle cx="487.2" cy="185.0" r="3.0" fill="none" stroke="#0000ff" stroke-width="1"/>
<circle cx="475.9" cy="191.1" r="3.0" fill="none" stroke="#0000ff" stroke-width="1"/>
<circle cx="490.8" cy="201.1" r="3.0" fill="none" stroke="#0000ff" stroke-width="1"/>
<circle cx="489.9" cy="127.7" r="3.0" fill="none" stroke="#0000ff" stroke-width="1"/>
<circle cx="497.2" cy="126.2" r="2.95" fill="#ff0000"/>
<circle cx="494.4" cy="138.6" r="2.95" fill="#ff0000"/>
<circle cx="504.5" cy="125.9" r="2.95" fill="#ff0000"/>
<circle cx="512.0" cy="124.8" r="2.95" fill="#ff0000"/>
<circle cx="519.7" cy="126.7" r="2.95" fill="#ff0000"/>
<circle cx="555.2" cy="124.0" r="2.95" fill="#ff0000"/>
<circle cx="562.3" cy="121.0" r="2.95" fill="#ff0000"/>
<circle cx="569.8" cy="121.0" r="2.95" fill="#ff0000"/>
<circle cx="566.1" cy="129.2" r="2.95" fill="#ff0000"/>
<circle cx="573.6" cy="129.4" r="2.95" fill="#ff0000"/>
<circle cx="501.1" cy="135.8" r="2.95" fill="#ff0000"/>
<circle cx="509.6" cy="134.0" r="2.95" fill="#ff0000"/>
<circle cx="523.6" cy="135.4" r="2.95" fill="#ff0000"/>
<circle cx="531.5" cy="134.3" r="2.95" fill="#ff0000"/>
<circle cx="544.6" cy="132.8" r="2.95" fill="#ff0000"/>
<circle cx="552.6" cy="132.6" r="2.95" fill="#ff0000"/>
<circle cx="559.8" cy="136.8" r="2.95" fill="#ff0000"/>
<circle cx="569.3" cy="138.9" r="2.95" fill="#ff0000"/>
<circle cx="517.2" cy="140.8" r="2.95" fill="#ff0000"/>
<circle cx="534.9" cy="142.9" r="2.95" fill="#ff0000"/>
<circle cx="543.0" cy="142.2" r="2.95" fill="#ff0000"/>
<circle cx="552.6" cy="142.0" r="2.95" fill="#ff0000"/>
<circle cx="507.9" cy="145.1" r="2.95" fill="#ff0000"/>
<circle cx="525.2" cy="144.9" r="2.95" fill="#ff0000"/>
<circle cx="563.0" cy="144.9" r="2.95" fill="#ff0000"/>
<circle cx="501.1" cy="148.9" r="2.95" fill="#ff0000"/>
<circle cx="515.4" cy="150.0" r="2.95" fill="#ff0000"/>
<circle cx="531.7" cy="151.4" r="2.95" fill="#ff0000"/>
<circle cx="547.5" cy="149.8" r="2.95" fill="#ff0000"/>
<circle cx="556.3" cy="150.4" r="2.95" fill="#ff0000"/>
<circle cx="570.2" cy="148.5" r="2.95" fill="#ff0000"/>
<circle cx="509.0" cy="155.8" r="2.95" fill="#ff0000"/>
<circle cx="522.9" cy="154.2" r="2.95" fill="#ff0000"/>
<circle cx="539.9" cy="154.0" r="2.95" fill="#ff0000"/>
<circle cx="562.9" cy="155.2" r="2.95" fill="#ff0000"/>
<circle cx="518.0" cy="160.9" r="2.95" fill="#ff0000"/>
<circle cx="526.9" cy="163.5" r="2.95" fill="#ff0000"/>
<circle cx="536.5" cy="162.6" r="2.95" fill="#ff0000"/>
<circle cx="545.3" cy="161.4" r="2.95" fill="#ff0000"/>
<circle cx="555.0" cy="159.9" r="2.95" fill="#ff0000"/>
<circle cx="577.4" cy="120.0" r="2.95" fill="#ff0000"/>
<circle cx="581.4" cy="130.3" r="2.95" fill="#ff0000"/>
<circle cx="576.6" cy="140.8" r="2.95" fill="#ff0000"/>
<circle cx="502.2" cy="160.7" r="2.95" fill="#ff0000"/>
<circle cx="511.6" cy="166.8" r="2.95" fill="#ff0000"/>
<circle cx="561.6" cy="165.0" r="2.95" fill="#ff0000"/>
<circle cx="578.0" cy="151.1" r="2.95" fill="#ff0000"/>
<circle cx="578.6" cy="162.0" r="2.95" fill="#ff0000"/>
<circle cx="587.3" cy="164.6" r="3.0" fill="none" stroke="#0000ff" stroke-width="1"/>
<circle cx="504.4" cy="173.0" r="2.95" fill="#ff0000"/>
<circle cx="521.4" cy="171.0" r="2.95" fill="#ff0000"/>
<circle cx="531.6" cy="172.7" r="2.95" fill="#ff0000"/>
<circle cx="541.9" cy="170.8" r="2.95" fill="#ff0000"/>
<circle cx="552.6" cy="169.6" r="2.95" fill="#ff0000"/>
<circle cx="569.4" cy="170.1" r="2.95" fill="#ff0000"/>
<circle cx="559.5" cy="175.4" r="2.95" fill="#ff0000"/>
<circle cx="496.5" cy="178.9" r="2.95" fill="#ff0000"/>
<circle cx="515.3" cy="178.4" r="2.95" fill="#ff0000"/>
<circle cx="526.8" cy="181.1" r="2.95" fill="#ff0000"/>
<circle cx="537.1" cy="181.7" r="2.95" fill="#ff0000"/>
<circle cx="549.9" cy="179.6" r="2.95" fill="#ff0000"/>
<circle cx="567.8" cy="181.5" r="2.95" fill="#ff0000"/>
<circle cx="508.4" cy="185.9" r="2.95" fill="#ff0000"/>
<circle cx="520.7" cy="189.9" r="2.95" fill="#ff0000"/>
<circle cx="532.8" cy="190.8" r="2.95" fill="#ff0000"/>
<circle cx="545.1" cy="189.9" r="2.95" fill="#ff0000"/>
<circle cx="556.9" cy="186.5" r="2.95" fill="#ff0000"/>
<circle cx="500.1" cy="193.6" r="3.0" fill="none" stroke="#0000ff" stroke-width="1"/>
<circle cx="565.7" cy="193.5" r="3.0" fill="none" stroke="#0000ff" stroke-width="1"/>
<circle cx="513.6" cy="198.8" r="3.0" fill="none" stroke="#0000ff" stroke-width="1"/>
<circle cx="526.8" cy="201.1" r="3.0" fill="none" stroke="#0000ff" stroke-width="1"/>
<circle cx="540.0" cy="200.4" r="3.0" fill="none" stroke="#0000ff" stroke-width="1"/>
<circle cx="553.5" cy="197.6" r="3.0" fill="none" stroke="#0000ff" stroke-width="1"/>
<circle cx="505.6" cy="207.9" r="3.0" fill="none" stroke="#0000ff" stroke-width="1"/>
<circle cx="520.3" cy="211.7" r="3.0" fill="none" stroke="#0000ff" stroke-width="1"/>
<circle cx="534.6" cy="212.0" r="3.0" fill="none" stroke="#0000ff" stroke-width="1"/>
<circle cx="548.8" cy="209.3" r="3.0" fill="none" stroke="#0000ff" stroke-width="1"/>
<circle cx="562.7" cy="205.9" r="3.0" fill="none" stroke="#0000ff" stroke-width="1"/>
<circle cx="578.1" cy="174.1" r="2.95" fill="#ff0000"/>
<circle cx="587.7" cy="177.8" r="3.0" fill="none" stroke="#0000ff" stroke-width="1"/>
<circle cx="577.1" cy="186.8" r="3.0" fill="none" stroke="#0000ff" stroke-width="1"/>
<circle cx="587.2" cy="191.1" r="3.0" fill="none" stroke="#0000ff" stroke-width="1"/>
<circle cx="575.4" cy="200.0" r="3.0" fill="none" stroke="#0000ff" stroke-width="1"/>
<circle cx="387.9" cy="191.2" r="2.95" fill="#ff0000"/>
<circle cx="387.9" cy="209.2" r="3.0" fill="none" stroke="#0000ff" stroke-width="1"/>
<text x="404.3" y="196.5" font-size="14.4" textLength="41.6" lengthAdjust="spacingAndGlyphs" fill="#000">Medial</text>
<text x="404.3" y="214.3" font-size="14.4" textLength="61.3" lengthAdjust="spacingAndGlyphs" fill="#000">Periphery</text>
<line x1="116.30" y1="269.5" x2="116.30" y2="413.9" stroke="#e2e2e2" stroke-width="1"/>
<line x1="184.09" y1="269.5" x2="184.09" y2="413.9" stroke="#e2e2e2" stroke-width="1"/>
<line x1="251.89" y1="269.5" x2="251.89" y2="413.9" stroke="#e2e2e2" stroke-width="1"/>
<line x1="319.68" y1="269.5" x2="319.68" y2="413.9" stroke="#e2e2e2" stroke-width="1"/>
<line x1="48.5" y1="342.10" x2="346.8" y2="342.10" stroke="#e2e2e2" stroke-width="1"/>
<path d="M48.50,411.40H162.04V411.39H163.25V409.78H164.45V408.18H178.91V408.18H178.91V406.81H178.91V405.45H211.83V405.45H211.83V404.00H211.83V402.56H220.66V402.56H220.66V400.95H220.66V399.34H233.51V399.34H233.51V397.74H233.51V396.13H246.35V396.13H246.35V394.77H246.35V393.40H255.99V393.40H256.49V391.52H256.99V389.64H257.49V387.75H257.98V386.26H258.48V384.76H258.98V383.26H259.36V381.39H259.73V379.52H260.10V377.65H260.48V375.78H262.72V375.78H267.96V375.78H269.09V373.91H270.21V372.04H270.96V370.29H271.71V368.54H272.46V366.80H272.95V365.05H273.45V363.30H273.95V361.56H276.20V360.81H276.95V359.31H277.69V357.81H278.44V356.32H279.19V354.82H279.94V353.32H282.19V352.57H284.43V351.83H285.55V350.33H286.68V348.83H287.18V347.34H287.67V345.84H288.17V344.34H288.67V342.35H289.17V340.35H289.67V338.35H290.79V336.48H291.92V334.61H294.16V334.61H295.66V333.86H296.16V332.37H296.66V330.87H297.16V329.37H298.28V327.72H299.40V326.08H301.65V325.63H303.14V324.13H303.52V322.26H303.89V320.39H304.27V318.52H304.64V316.65H305.76V315.52H306.89V314.40H307.26V312.72H307.63V311.03H308.01V309.35H308.38V307.66H311.38V307.66H313.62V306.92H314.75V305.42H315.87V303.92H316.62V302.80H317.37V301.68H317.86V299.93H318.36V298.18H318.86V296.44H320.36V295.31H321.86V294.19H322.60V293.07H323.35V291.95H323.60V290.45H323.85V288.95H324.10V287.46H324.48V285.81H324.85V284.16H327.84V284.16H329.34V282.22H330.09V281.09H330.84V279.97H331.59V278.10H332.34V276.23H333.08V274.36H333.83V272.49H334.96V271.36H336.08V270.24H336.83V269.49" fill="none" stroke="#d95319" stroke-width="1.0"/>
<path d="M48.50,413.00H164.45V412.19H164.45V410.99H164.45V409.78H175.69V409.78H175.69V408.18H182.12V408.18H182.12V406.89H199.78V406.89H199.78V405.77H212.63V405.77H212.63V404.16H219.05V404.16H219.05V402.56H223.87V402.56H223.87V400.95H228.69V400.95H228.69V399.75H228.69V398.54H236.72V398.54H236.72V396.94H236.72V395.33H242.34V395.33H242.34V393.72H243.14V391.85H243.95V389.98H244.75V388.10H250.37V386.50H253.18V385.29H255.99V384.09H258.23V382.51H258.98V380.77H259.73V379.02H260.48V377.28H261.68V375.78H262.72V374.58H265.72V374.28H266.84V373.16H267.96V372.04H269.46V370.91H270.96V369.79H271.71V368.29H272.46V366.80H272.95V365.30H273.45V363.80H273.95V362.31H275.45V360.81H276.95V360.06H279.19V358.56H280.31V356.69H281.44V354.82H282.19V353.32H282.93V351.83H283.68V350.33H284.18V348.33H284.68V346.34H285.18V344.34H285.93V342.84H288.17V342.84H289.30V341.72H290.42V340.60H291.54V338.73H292.66V336.86H293.41V334.99H294.16V333.11H295.66V331.62H296.41V330.12H297.16V328.62H299.40V327.87H301.65V327.13H302.40V326.00H303.14V324.88H303.52V323.38H303.89V321.89H304.39V320.14H304.89V318.39H305.39V316.65H305.95V314.59H306.51V312.53H307.07V310.47H307.63V308.41H308.38V306.54H309.13V304.67H310.25V302.80H311.38V300.93H312.50V299.43H313.62V297.93H314.75V296.44H315.87V294.94H316.62V293.82H317.37V292.69H318.11V291.20H318.86V289.70H319.61V288.20H320.36V286.33H321.11V284.46H323.35V284.16H324.48V282.07H325.60V279.97H326.60V278.47H327.59V276.98H328.59V275.48H330.84V275.18H333.08V275.18H335.33V273.23H336.83V271.74H342.07V271.74H344.31V270.69H346.56V269.49" fill="none" stroke="#0072bd" stroke-width="1.0"/>
<rect x="48.5" y="269.5" width="298.3" height="144.40" fill="none" stroke="#444444" stroke-width="1"/>
<line x1="116.30" y1="413.9" x2="116.30" y2="410.9" stroke="#444444" stroke-width="1"/>
<line x1="116.30" y1="269.5" x2="116.30" y2="272.5" stroke="#444444" stroke-width="1"/>
<line x1="184.09" y1="413.9" x2="184.09" y2="410.9" stroke="#444444" stroke-width="1"/>
<line x1="184.09" y1="269.5" x2="184.09" y2="272.5" stroke="#444444" stroke-width="1"/>
<line x1="251.89" y1="413.9" x2="251.89" y2="410.9" stroke="#444444" stroke-width="1"/>
<line x1="251.89" y1="269.5" x2="251.89" y2="272.5" stroke="#444444" stroke-width="1"/>
<line x1="319.68" y1="413.9" x2="319.68" y2="410.9" stroke="#444444" stroke-width="1"/>
<line x1="319.68" y1="269.5" x2="319.68" y2="272.5" stroke="#444444" stroke-width="1"/>
<line x1="48.5" y1="342.10" x2="51.5" y2="342.10" stroke="#444444" stroke-width="1"/>
<line x1="346.8" y1="342.10" x2="343.8" y2="342.10" stroke="#444444" stroke-width="1"/>
<text x="42.5" y="274.72999999999996" font-size="14.6" text-anchor="end" fill="#262626">1</text>
<text x="42.5" y="348.03" font-size="14.6" text-anchor="end" fill="#262626">0.5</text>
<text x="42.5" y="420.33" font-size="14.6" text-anchor="end" fill="#262626">0</text>
<text x="170.9" y="262.4" font-size="15.7" font-weight="bold" textLength="53.1" lengthAdjust="spacingAndGlyphs" fill="#000">Frontal</text>
<line x1="452.73" y1="269.5" x2="452.73" y2="413.9" stroke="#e2e2e2" stroke-width="1"/>
<line x1="520.45" y1="269.5" x2="520.45" y2="413.9" stroke="#e2e2e2" stroke-width="1"/>
<line x1="588.18" y1="269.5" x2="588.18" y2="413.9" stroke="#e2e2e2" stroke-width="1"/>
<line x1="655.91" y1="269.5" x2="655.91" y2="413.9" stroke="#e2e2e2" stroke-width="1"/>
<line x1="385.0" y1="342.10" x2="683.0" y2="342.10" stroke="#e2e2e2" stroke-width="1"/>
<path d="M452.30,413.40H452.34V411.61H539.07V411.61H539.07V409.71H539.07V407.81H549.13V407.81H549.13V406.67H549.13V405.54H550.55V404.30H551.98V403.07H553.87V401.84H555.77V400.60H557.19V399.46H558.62V398.32H559.57V396.43H560.52V394.53H561.82V393.65H562.74V392.28H563.65V390.91H564.11V389.27H564.56V387.63H571.86V387.63H572.77V386.08H573.69V384.53H575.05V383.16H576.42V381.79H579.16V380.88H579.77V379.36H580.38V377.83H580.99V376.31H581.90V374.95H582.81V373.58H583.11V371.45H583.42V369.32H583.72V367.19H587.37V366.28H588.74V364.91H590.11V363.54H591.48V362.17H592.85V360.80H594.22V359.43H595.58V358.07H600.15V357.70H600.75V356.00H601.36V354.29H601.97V352.59H606.53V351.68H607.90V350.31H609.27V348.94H610.18V347.57H611.09V346.20H612.01V344.38H612.92V342.55H613.38V340.50H613.83V338.45H614.29V336.40H614.74V334.34H615.35V332.52H615.96V330.69H616.57V328.87H616.86V327.04H617.15V325.22H617.45V323.39H617.74V321.57H618.03V319.74H624.78V319.38H625.24V317.65H625.69V315.91H626.15V314.18H626.61V312.45H627.97V310.62H629.34V308.80H630.26V307.27H631.17V305.75H632.08V304.23H633.45V302.86H634.82V301.50H636.46V300.13H638.10V298.76H638.54V296.93H638.98V295.11H639.42V293.28H639.85V291.46H640.29V289.64H641.20V288.11H642.12V286.59H643.03V285.07H645.77V283.25H647.14V281.42H648.50V279.60H649.87V277.50H651.24V275.40H654.89V274.12H658.54V273.21H661.28V272.30H665.84V271.39H667.66V269.56" fill="none" stroke="#d95319" stroke-width="1.0"/>
<path d="M478.90,413.40H478.91V413.13H492.19V412.56H495.99V410.66H500.73V408.76H505.48V406.86H509.27V405.54H514.97V404.02H519.71V402.50H524.46V401.74H527.30V399.84H529.68V397.66H532.05V395.48H535.84V394.53H537.43V392.95H539.01V391.37H540.59V389.78H541.85V388.20H543.12V386.62H544.38V385.04H550.08V384.66H551.98V382.95H553.87V381.24H554.82V379.35H555.77V377.45H556.72V375.55H557.99V373.97H559.25V372.39H560.52V370.80H563.65V369.93H567.30V368.10H568.21V366.28H569.12V364.45H570.04V362.63H570.58V360.62H571.13V358.61H571.68V356.61H572.23V354.60H572.77V352.59H575.51V350.77H576.42V348.64H577.34V346.51H578.25V344.38H580.07V343.10H582.81V343.10H583.72V341.40H584.64V339.70H585.55V337.99H587.37V336.17H588.59V334.65H589.81V333.13H591.02V331.61H593.76V330.69H594.67V328.87H595.58V327.04H598.32V326.68H600.15V325.04H601.97V323.39H603.80V321.57H605.62V319.74H608.36V317.92H609.57V316.09H610.79V314.27H612.01V312.45H612.92V310.62H613.83V308.80H616.11V307.15H618.39V305.51H620.22V303.50H622.04V301.50H623.41V299.67H624.78V297.85H627.52V296.39H628.89V295.11H630.26V293.83H631.17V292.19H632.08V290.55H632.69V289.03H633.30V287.51H633.91V285.99H635.27V284.62H636.64V283.25H637.86V281.42H639.08V279.60H640.29V277.77H643.03V275.58H646.68V275.58H648.05V274.40H649.42V273.21H652.15V272.30H655.80V271.93H659.45V270.47H664.01V269.56" fill="none" stroke="#0072bd" stroke-width="1.0"/>
<rect x="385.0" y="269.5" width="298.0" height="144.40" fill="none" stroke="#444444" stroke-width="1"/>
<line x1="452.73" y1="413.9" x2="452.73" y2="410.9" stroke="#444444" stroke-width="1"/>
<line x1="452.73" y1="269.5" x2="452.73" y2="272.5" stroke="#444444" stroke-width="1"/>
<line x1="520.45" y1="413.9" x2="520.45" y2="410.9" stroke="#444444" stroke-width="1"/>
<line x1="520.45" y1="269.5" x2="520.45" y2="272.5" stroke="#444444" stroke-width="1"/>
<line x1="588.18" y1="413.9" x2="588.18" y2="410.9" stroke="#444444" stroke-width="1"/>
<line x1="588.18" y1="269.5" x2="588.18" y2="272.5" stroke="#444444" stroke-width="1"/>
<line x1="655.91" y1="413.9" x2="655.91" y2="410.9" stroke="#444444" stroke-width="1"/>
<line x1="655.91" y1="269.5" x2="655.91" y2="272.5" stroke="#444444" stroke-width="1"/>
<line x1="385.0" y1="342.10" x2="388.0" y2="342.10" stroke="#444444" stroke-width="1"/>
<line x1="683.0" y1="342.10" x2="680.0" y2="342.10" stroke="#444444" stroke-width="1"/>
<text x="507.0" y="262.4" font-size="15.7" font-weight="bold" textLength="53.8" lengthAdjust="spacingAndGlyphs" fill="#000">Central</text>
<line x1="116.30" y1="451.5" x2="116.30" y2="596.4" stroke="#e2e2e2" stroke-width="1"/>
<line x1="184.09" y1="451.5" x2="184.09" y2="596.4" stroke="#e2e2e2" stroke-width="1"/>
<line x1="251.89" y1="451.5" x2="251.89" y2="596.4" stroke="#e2e2e2" stroke-width="1"/>
<line x1="319.68" y1="451.5" x2="319.68" y2="596.4" stroke="#e2e2e2" stroke-width="1"/>
<line x1="48.5" y1="524.35" x2="346.8" y2="524.35" stroke="#e2e2e2" stroke-width="1"/>
<path d="M137.40,595.70H137.40V594.01H155.62V594.01H155.62V592.34H155.62V590.66H156.94V590.66H169.27V590.66H169.27V589.05H169.27V587.43H181.61V587.43H182.56V585.54H183.51V583.64H184.46V581.74H186.83V580.22H189.20V578.70H191.10V577.00H193.00V575.29H194.89V573.58H204.38V571.68H206.28V570.35H211.03V568.83H212.92V566.94H214.82V565.04H221.47V564.09H227.16V563.52H228.65V561.60H235.95V561.05H236.63V558.91H237.32V556.76H238.00V554.62H238.69V552.47H243.25V551.93H244.16V550.10H245.07V548.28H245.68V546.15H246.29V544.02H246.90V541.89H247.58V540.07H248.27V538.24H248.95V536.42H249.64V534.59H254.20V534.23H254.65V532.22H255.11V530.21H255.57V528.20H256.02V526.20H256.48V524.19H256.93V522.18H263.69V521.82H264.48V519.99H265.27V518.17H266.06V516.34H266.97V514.97H267.88V513.61H269.71V511.78H271.53V509.96H272.32V508.13H273.11V506.31H273.91V504.48H275.46V503.11H277.01V501.74H278.38V500.38H279.74V499.01H281.57V497.18H283.39V495.36H283.85V493.53H284.31V491.71H284.76V489.88H285.22V488.06H286.44V486.23H287.65V484.41H288.87V482.58H290.51V481.22H292.15V479.85H292.61V478.02H293.07V476.20H293.52V474.37H293.98V472.55H297.08V470.36H297.99V468.65H298.91V466.95H299.82V465.25H300.43V463.55H301.03V461.84H301.64V460.14H307.12V459.41H308.49V457.77H309.85V456.12H312.23V453.93H334.49V453.93H334.49V452.75H334.49V451.56" fill="none" stroke="#d95319" stroke-width="1.0"/>
<path d="M93.90,595.70H117.66V595.33H117.66V593.87H126.42V593.87H126.42V592.41H137.37V592.41H137.37V590.66H139.56V589.20H151.97V589.20H152.70V587.37H153.43V585.55H154.16V583.72H154.89V581.90H158.83V581.17H162.63V579.27H167.38V578.32H168.64V576.43H169.91V574.53H171.17V572.63H172.44V571.05H173.70V569.47H174.97V567.89H178.76V565.99H180.19V564.56H181.61V563.14H183.03V561.24H184.46V559.35H186.35V557.45H188.25V555.55H190.15V554.13H192.05V552.70H193.47V551.28H194.89V549.86H196.79V547.96H198.69V546.06H200.59V544.64H202.49V543.21H205.33V541.32H207.23V539.89H209.13V538.47H213.87V537.52H215.14V535.94H216.40V534.36H217.67V532.77H222.41V531.26H223.68V529.55H224.94V527.84H226.21V526.13H226.97V524.89H227.74V523.64H228.95V522.12H230.17V520.60H231.39V519.08H232.76V517.26H234.12V515.43H234.61V513.91H235.10V512.39H235.58V510.87H238.69V510.50H240.05V509.32H241.42V508.13H242.79V506.31H244.16V504.48H245.07V503.11H245.99V501.74H247.81V500.38H249.64V499.01H251.00V497.64H252.37V496.27H253.74V494.45H255.11V492.62H257.85V490.80H258.76V488.67H259.67V486.54H260.58V484.41H262.41V482.58H264.23V480.76H267.88V480.21H269.25V478.39H270.62V476.56H272.45V475.28H274.27V474.01H275.49V472.43H276.70V470.84H277.92V469.26H279.74V467.99H281.57V466.71H283.39V465.52H285.22V464.34H290.69V464.34H293.43V463.06H294.80V461.60H296.17V460.14H299.82V459.41H300.73V458.22H301.64V457.04H305.29V456.49H308.03V455.21H311.68V454.66H312.59V452.47H317.15V451.93" fill="none" stroke="#0072bd" stroke-width="1.0"/>
<rect x="48.5" y="451.5" width="298.3" height="144.90" fill="none" stroke="#444444" stroke-width="1"/>
<line x1="116.30" y1="596.4" x2="116.30" y2="593.4" stroke="#444444" stroke-width="1"/>
<line x1="116.30" y1="451.5" x2="116.30" y2="454.5" stroke="#444444" stroke-width="1"/>
<line x1="184.09" y1="596.4" x2="184.09" y2="593.4" stroke="#444444" stroke-width="1"/>
<line x1="184.09" y1="451.5" x2="184.09" y2="454.5" stroke="#444444" stroke-width="1"/>
<line x1="251.89" y1="596.4" x2="251.89" y2="593.4" stroke="#444444" stroke-width="1"/>
<line x1="251.89" y1="451.5" x2="251.89" y2="454.5" stroke="#444444" stroke-width="1"/>
<line x1="319.68" y1="596.4" x2="319.68" y2="593.4" stroke="#444444" stroke-width="1"/>
<line x1="319.68" y1="451.5" x2="319.68" y2="454.5" stroke="#444444" stroke-width="1"/>
<line x1="48.5" y1="524.35" x2="51.5" y2="524.35" stroke="#444444" stroke-width="1"/>
<line x1="346.8" y1="524.35" x2="343.8" y2="524.35" stroke="#444444" stroke-width="1"/>
<text x="42.5" y="456.72999999999996" font-size="14.6" text-anchor="end" fill="#262626">1</text>
<text x="42.5" y="530.2800000000001" font-size="14.6" text-anchor="end" fill="#262626">0.5</text>
<text x="42.5" y="602.83" font-size="14.6" text-anchor="end" fill="#262626">0</text>
<text x="168.8" y="444.1" font-size="15.7" font-weight="bold" textLength="58.3" lengthAdjust="spacingAndGlyphs" fill="#000">Parietal</text>
<line x1="452.73" y1="451.5" x2="452.73" y2="596.4" stroke="#e2e2e2" stroke-width="1"/>
<line x1="520.45" y1="451.5" x2="520.45" y2="596.4" stroke="#e2e2e2" stroke-width="1"/>
<line x1="588.18" y1="451.5" x2="588.18" y2="596.4" stroke="#e2e2e2" stroke-width="1"/>
<line x1="655.91" y1="451.5" x2="655.91" y2="596.4" stroke="#e2e2e2" stroke-width="1"/>
<line x1="385.0" y1="524.35" x2="683.0" y2="524.35" stroke="#e2e2e2" stroke-width="1"/>
<path d="M418.80,595.70H418.80V593.64H464.30V593.64H464.30V592.11H464.30V590.58H469.56V590.58H469.56V589.15H469.56V587.73H483.35V587.73H483.35V586.31H483.35V584.89H496.49V584.89H496.49V583.35H496.49V581.82H506.34V581.82H506.34V579.78H506.34V577.73H506.34V575.69H520.58V575.69H523.86V573.50H525.50V572.19H527.14V570.87H532.62V568.68H534.81V567.37H546.85V565.84H549.04V563.65H556.70V562.55H557.28V560.76H557.85V558.98H559.74V557.27H561.64V555.56H571.13V555.18H572.08V553.76H573.03V552.33H576.83V551.38H577.14V549.55H577.46V547.71H577.77V545.88H578.09V544.05H578.41V542.21H578.72V540.38H592.01V540.38H593.43V538.76H594.86V537.15H595.01V535.25H595.17V533.35H595.33V531.46H595.49V529.56H595.65V527.66H595.80V525.76H596.75V524.18H597.70V522.60H598.65V521.02H599.22V519.12H599.79V517.22H600.36V515.32H600.93V513.43H601.50V511.53H604.72V509.63H605.36V507.73H605.99V505.83H606.62V503.94H607.48V501.94H608.33V499.95H609.18V497.96H610.04V495.97H616.68V495.40H617.63V493.50H618.58V491.60H619.21V490.02H619.84V488.44H620.48V486.86H624.27V485.91H624.91V484.33H625.54V482.74H626.17V481.16H626.65V479.50H627.12V477.84H627.59V476.18H628.07V474.52H628.78V472.62H629.49V470.72H630.20V468.83H630.92V466.93H632.81V465.60H637.56V465.03H638.51V463.45H639.46V461.87H640.41V460.29H644.20V459.91H651.79V459.34H652.74V457.72H653.69V456.11H654.64V454.88H655.59V453.64H674.57V453.64H675.52V451.55" fill="none" stroke="#d95319" stroke-width="1.0"/>
<path d="M439.60,595.70H440.65V594.96H440.65V592.77H464.74V592.77H473.50V591.45H484.45V589.26H489.92V587.95H495.40V586.64H499.77V585.54H500.87V583.90H501.96V582.26H510.72V580.51H512.36V578.64H514.01V576.78H516.74V575.36H519.48V573.94H523.86V572.40H524.96V570.21H526.05V568.02H527.14V565.84H528.24V563.65H529.33V561.46H531.52V559.81H533.71V558.17H539.19V555.98H543.57V554.89H545.21V552.70H546.85V550.51H549.04V548.32H551.23V546.13H554.51V543.94H555.00V543.94H555.95V541.99H556.90V540.05H557.85V538.10H559.11V536.20H560.38V534.30H561.64V532.41H563.07V530.51H564.49V528.61H565.12V527.03H565.75V525.45H566.39V523.86H569.23V521.97H570.18V520.39H571.13V518.80H572.08V517.22H573.03V515.64H573.98V514.06H574.93V512.48H577.77V510.58H578.72V508.68H579.67V506.78H580.62V504.89H582.52V502.99H584.42V501.09H585.05V499.51H585.68V497.93H586.32V496.35H586.95V494.76H587.58V493.18H588.21V491.60H589.16V490.02H590.11V488.44H591.06V486.86H593.91V484.96H594.86V483.06H595.80V481.16H600.55V480.78H601.50V479.07H602.45V477.37H603.71V475.47H604.98V473.57H606.24V471.67H610.04V470.72H613.83V468.83H617.63V466.93H622.38V465.98H626.17V464.08H629.02V462.18H632.81V461.80H634.71V460.57H636.61V459.34H638.51V457.44H640.41V455.54H644.20V453.64H648.00V452.69H652.74V451.55" fill="none" stroke="#0072bd" stroke-width="1.0"/>
<rect x="385.0" y="451.5" width="298.0" height="144.90" fill="none" stroke="#444444" stroke-width="1"/>
<line x1="452.73" y1="596.4" x2="452.73" y2="593.4" stroke="#444444" stroke-width="1"/>
<line x1="452.73" y1="451.5" x2="452.73" y2="454.5" stroke="#444444" stroke-width="1"/>
<line x1="520.45" y1="596.4" x2="520.45" y2="593.4" stroke="#444444" stroke-width="1"/>
<line x1="520.45" y1="451.5" x2="520.45" y2="454.5" stroke="#444444" stroke-width="1"/>
<line x1="588.18" y1="596.4" x2="588.18" y2="593.4" stroke="#444444" stroke-width="1"/>
<line x1="588.18" y1="451.5" x2="588.18" y2="454.5" stroke="#444444" stroke-width="1"/>
<line x1="655.91" y1="596.4" x2="655.91" y2="593.4" stroke="#444444" stroke-width="1"/>
<line x1="655.91" y1="451.5" x2="655.91" y2="454.5" stroke="#444444" stroke-width="1"/>
<line x1="385.0" y1="524.35" x2="388.0" y2="524.35" stroke="#444444" stroke-width="1"/>
<line x1="683.0" y1="524.35" x2="680.0" y2="524.35" stroke="#444444" stroke-width="1"/>
<text x="501.4" y="444.1" font-size="15.7" font-weight="bold" textLength="64.8" lengthAdjust="spacingAndGlyphs" fill="#000">Occipital</text>
<line x1="116.30" y1="633.5" x2="116.30" y2="778.3" stroke="#e2e2e2" stroke-width="1"/>
<line x1="184.09" y1="633.5" x2="184.09" y2="778.3" stroke="#e2e2e2" stroke-width="1"/>
<line x1="251.89" y1="633.5" x2="251.89" y2="778.3" stroke="#e2e2e2" stroke-width="1"/>
<line x1="319.68" y1="633.5" x2="319.68" y2="778.3" stroke="#e2e2e2" stroke-width="1"/>
<line x1="48.5" y1="706.30" x2="346.8" y2="706.30" stroke="#e2e2e2" stroke-width="1"/>
<path d="M106.00,778.00H106.00V776.77H106.00V775.54H116.46V775.54H116.46V773.90H116.46V772.26H123.47V772.26H123.47V770.94H123.47V769.63H170.54V769.63H170.54V767.88H170.54V766.13H182.15V766.13H182.15V764.81H182.15V763.50H202.29V763.50H202.29V761.86H202.29V760.21H207.11V760.21H207.11V758.79H207.11V757.37H213.24V757.37H213.24V755.84H213.24V754.30H220.25V754.30H220.25V752.88H220.25V751.46H228.57V751.46H228.57V749.81H228.57V748.17H239.08V748.17H239.08V746.86H239.08V745.54H239.20V745.54H251.79V745.54H252.21V744.35H252.63V743.15H255.98V742.31H256.82V740.63H257.66V738.95H258.50V737.28H261.86V736.44H262.42V734.48H262.98V732.52H263.54V730.56H271.09V730.56H271.93V729.30H272.77V728.04H274.03V726.78H275.29V725.53H275.92V723.85H276.55V722.17H277.18V720.49H277.81V718.81H279.07V717.55H280.32V716.29H282.84V715.45H283.18V713.44H283.51V711.42H283.85V709.41H284.19V707.40H284.52V705.38H288.38V704.54H288.68V702.44H288.97V700.34H289.26V698.25H289.56V696.15H290.19V694.47H290.82V692.79H291.45V691.11H292.08V689.43H295.43V688.59H295.94V686.41H296.44V684.23H296.94V682.05H297.45V679.86H297.95V677.68H299.63V675.67H300.19V673.82H300.75V671.97H301.31V670.13H301.73V668.24H302.15V666.35H302.57V664.46H302.99V662.57H308.02V662.24H308.44V660.22H308.86V658.21H309.28V656.19H309.70V654.18H311.38V652.92H313.06V651.66H314.74V649.56H316.42V647.47H317.68V645.79H318.93V644.11H320.19V642.85H321.45V641.59H322.29V639.91H323.13V638.23H323.97V636.97H324.81V635.71H334.88V635.38H335.72V633.53" fill="none" stroke="#d95319" stroke-width="1.0"/>
<path d="M149.70,778.00H165.07V777.07H165.07V775.54H171.64V773.35H181.49V772.26H188.06V770.51H197.91V769.63H200.10V767.66H202.29V765.69H213.24V763.94H214.88V762.40H216.52V760.87H218.17V759.12H219.81V757.37H221.45V756.05H223.09V754.74H224.74V753.43H226.38V752.11H227.84V750.43H229.30V748.76H230.76V747.08H232.95V745.25H235.14V743.43H237.33V741.60H239.51V739.41H241.70V737.22H241.71V737.22H242.55V735.28H243.39V733.34H244.23V731.40H245.49V729.72H246.75V728.04H249.27V726.03H251.79V724.69H253.89V722.84H255.98V720.99H256.54V719.43H257.10V717.86H257.66V716.29H260.18V715.45H261.44V713.35H262.70V711.26H264.10V709.58H265.50V707.90H266.90V706.22H268.15V704.54H269.41V702.86H270.53V701.18H271.65V699.51H272.77V697.83H273.89V696.15H275.01V694.47H276.13V692.79H278.98V691.95H279.43V690.27H279.88V688.59H280.32V686.92H282.00V685.66H283.68V684.40H285.36V682.72H287.04V681.04H288.30V679.78H289.56V678.52H290.68V676.84H291.80V675.16H292.92V673.49H294.17V672.23H295.43V670.97H297.11V668.87H298.79V666.77H299.07V665.09H299.35V663.41H299.63V661.73H301.31V660.31H302.99V658.88H304.67V657.37H306.34V655.86H307.18V654.18H308.02V652.50H308.86V650.82H310.26V648.86H311.66V646.91H313.06V644.95H317.26V644.11H317.68V642.85H318.10V641.59H320.61V640.75H321.87V639.07H323.13V637.39H324.81V636.13H326.49V634.88H329.01V633.53" fill="none" stroke="#0072bd" stroke-width="1.0"/>
<rect x="48.5" y="633.5" width="298.3" height="144.80" fill="none" stroke="#444444" stroke-width="1"/>
<line x1="116.30" y1="778.3" x2="116.30" y2="775.3" stroke="#444444" stroke-width="1"/>
<line x1="116.30" y1="633.5" x2="116.30" y2="636.5" stroke="#444444" stroke-width="1"/>
<line x1="184.09" y1="778.3" x2="184.09" y2="775.3" stroke="#444444" stroke-width="1"/>
<line x1="184.09" y1="633.5" x2="184.09" y2="636.5" stroke="#444444" stroke-width="1"/>
<line x1="251.89" y1="778.3" x2="251.89" y2="775.3" stroke="#444444" stroke-width="1"/>
<line x1="251.89" y1="633.5" x2="251.89" y2="636.5" stroke="#444444" stroke-width="1"/>
<line x1="319.68" y1="778.3" x2="319.68" y2="775.3" stroke="#444444" stroke-width="1"/>
<line x1="319.68" y1="633.5" x2="319.68" y2="636.5" stroke="#444444" stroke-width="1"/>
<line x1="48.5" y1="706.30" x2="51.5" y2="706.30" stroke="#444444" stroke-width="1"/>
<line x1="346.8" y1="706.30" x2="343.8" y2="706.30" stroke="#444444" stroke-width="1"/>
<text x="42.5" y="638.73" font-size="14.6" text-anchor="end" fill="#262626">1</text>
<text x="42.5" y="712.23" font-size="14.6" text-anchor="end" fill="#262626">0.5</text>
<text x="42.5" y="784.73" font-size="14.6" text-anchor="end" fill="#262626">0</text>
<text x="145.9" y="625.9" font-size="15.7" font-weight="bold" textLength="103.7" lengthAdjust="spacingAndGlyphs" fill="#000">Left Temporal</text>
<line x1="452.73" y1="633.5" x2="452.73" y2="778.3" stroke="#e2e2e2" stroke-width="1"/>
<line x1="520.45" y1="633.5" x2="520.45" y2="778.3" stroke="#e2e2e2" stroke-width="1"/>
<line x1="588.18" y1="633.5" x2="588.18" y2="778.3" stroke="#e2e2e2" stroke-width="1"/>
<line x1="655.91" y1="633.5" x2="655.91" y2="778.3" stroke="#e2e2e2" stroke-width="1"/>
<line x1="385.0" y1="706.30" x2="683.0" y2="706.30" stroke="#e2e2e2" stroke-width="1"/>
<path d="M442.70,778.00H442.70V776.70H442.70V775.40H481.46V775.40H481.46V774.08H481.46V772.77H494.59V772.77H494.59V771.13H494.59V769.48H520.87V769.48H520.87V767.44H520.87V765.40H520.87V763.35H536.85V763.35H536.85V761.93H536.85V760.51H540.58V760.51H540.58V758.54H540.58V756.56H540.58V754.59H544.96V754.59H544.96V753.17H544.96V751.75H567.95V751.75H567.95V749.56H567.95V747.37H570.23V746.10H572.52V744.83H573.78V743.57H575.04V742.31H577.13V741.05H579.23V739.79H586.79V739.79H587.63V738.12H588.47V736.44H590.98V735.60H591.54V733.92H592.10V732.24H592.66V730.56H601.06V730.56H601.48V729.13H601.90V727.71H609.45V727.20H609.79V725.02H610.12V722.84H610.46V720.66H610.79V718.47H611.13V716.29H614.49V715.45H614.91V713.35H615.32V711.26H616.16V709.58H617.00V707.90H617.84V706.22H618.68V704.54H623.72V704.54H624.56V702.86H625.40V701.18H626.24V699.51H627.50V697.41H628.75V695.31H630.01V693.21H631.27V691.11H632.53V689.01H633.79V686.92H635.47V686.08H635.89V684.19H636.31V682.30H636.73V680.41H637.15V678.52H637.32V676.68H637.48V674.83H637.65V672.98H637.82V671.14H637.99V669.29H638.83V667.19H639.67V665.09H643.02V664.25H643.86V662.36H644.70V660.48H645.54V658.59H646.38V656.70H651.42V655.86H651.70V654.18H651.98V652.50H652.26V650.82H653.52V649.14H654.77V647.47H656.03V645.79H657.29V644.11H657.57V642.32H657.85V640.53H658.13V638.74H663.17V638.23H664.43V636.97H665.69V635.71H676.60V635.71H677.44V633.53" fill="none" stroke="#d95319" stroke-width="1.0"/>
<path d="M446.40,778.00H485.84V777.58H485.84V775.40H495.69V773.21H500.07V771.02H521.96V769.26H526.34V767.73H534.01V765.54H539.48V763.35H543.86V761.16H545.50V758.97H547.14V756.78H549.33V754.92H551.52V753.06H557.00V751.75H561.38V750.21H564.66V749.12H566.85V747.48H569.04V745.84H571.62V743.82H574.20V741.81H577.55V740.63H577.97V738.54H578.39V736.44H578.81V734.34H579.23V732.24H580.49V730.81H581.75V729.39H582.87V727.54H583.99V725.69H585.11V723.85H587.63V723.01H588.47V721.33H589.31V719.65H590.14V717.97H590.98V716.29H597.70V716.29H598.96V714.19H600.22V712.10H600.89V710.25H601.56V708.40H602.23V706.56H602.90V704.71H603.57V702.86H606.09V702.02H606.51V699.92H606.93V697.83H608.61V696.57H610.29V695.31H610.92V693.42H611.55V691.53H612.18V689.64H612.81V687.75H614.07V686.50H615.32V685.24H616.44V683.73H617.56V682.21H618.68V680.70H620.36V679.14H622.04V677.57H623.72V676.00H624.77V673.99H625.82V671.97H626.87V669.96H627.92V667.95H628.59V666.03H629.26V664.12H629.93V662.20H630.60V660.29H631.27V658.38H636.31V657.87H638.83V655.86H639.67V653.90H640.51V651.94H641.34V649.98H643.02V648.72H644.70V647.47H648.90V645.79H650.02V644.11H651.14V642.43H652.26V640.75H655.61V639.41H658.13V637.39H662.33V635.71H665.69V634.04H673.24V633.53" fill="none" stroke="#0072bd" stroke-width="1.0"/>
<rect x="385.0" y="633.5" width="298.0" height="144.80" fill="none" stroke="#444444" stroke-width="1"/>
<line x1="452.73" y1="778.3" x2="452.73" y2="775.3" stroke="#444444" stroke-width="1"/>
<line x1="452.73" y1="633.5" x2="452.73" y2="636.5" stroke="#444444" stroke-width="1"/>
<line x1="520.45" y1="778.3" x2="520.45" y2="775.3" stroke="#444444" stroke-width="1"/>
<line x1="520.45" y1="633.5" x2="520.45" y2="636.5" stroke="#444444" stroke-width="1"/>
<line x1="588.18" y1="778.3" x2="588.18" y2="775.3" stroke="#444444" stroke-width="1"/>
<line x1="588.18" y1="633.5" x2="588.18" y2="636.5" stroke="#444444" stroke-width="1"/>
<line x1="655.91" y1="778.3" x2="655.91" y2="775.3" stroke="#444444" stroke-width="1"/>
<line x1="655.91" y1="633.5" x2="655.91" y2="636.5" stroke="#444444" stroke-width="1"/>
<line x1="385.0" y1="706.30" x2="388.0" y2="706.30" stroke="#444444" stroke-width="1"/>
<line x1="683.0" y1="706.30" x2="680.0" y2="706.30" stroke="#444444" stroke-width="1"/>
<text x="476.4" y="625.9" font-size="15.7" font-weight="bold" textLength="115.6" lengthAdjust="spacingAndGlyphs" fill="#000">Right Temporal</text>
<line x1="116.30" y1="815.5" x2="116.30" y2="960.5" stroke="#e2e2e2" stroke-width="1"/>
<line x1="184.09" y1="815.5" x2="184.09" y2="960.5" stroke="#e2e2e2" stroke-width="1"/>
<line x1="251.89" y1="815.5" x2="251.89" y2="960.5" stroke="#e2e2e2" stroke-width="1"/>
<line x1="319.68" y1="815.5" x2="319.68" y2="960.5" stroke="#e2e2e2" stroke-width="1"/>
<line x1="48.5" y1="888.40" x2="346.8" y2="888.40" stroke="#e2e2e2" stroke-width="1"/>
<path d="M141.40,960.20H141.42V958.02H165.07V958.02H165.62V956.16H166.16V954.30H167.80V952.88H169.45V951.45H170.54V949.92H171.64V948.39H185.87V947.73H186.96V946.20H196.82V946.20H197.55V944.30H198.28V942.40H199.01V940.51H200.10V938.54H201.20V936.56H202.29V934.59H214.33V933.50H215.43V931.89H216.52V930.29H217.62V928.68H229.66V928.02H230.76V926.60H231.85V925.18H233.49V923.86H235.14V922.55H241.70V921.46H241.71V921.46H242.55V919.89H243.39V918.32H244.23V916.76H245.07V915.08H245.91V913.40H246.75V911.72H247.31V910.04H247.87V908.36H248.43V906.69H249.69V905.01H250.95V903.33H251.51V901.65H252.07V899.97H252.63V898.29H253.89V896.61H255.14V894.93H255.77V892.92H256.40V890.91H257.03V888.89H257.66V886.88H262.70V886.54H263.54V885.03H264.38V883.52H265.22V882.09H266.06V880.67H271.09V879.83H271.51V877.73H271.93V875.63H272.35V873.53H272.77V871.43H273.33V869.75H273.89V868.08H274.45V866.40H276.13V864.72H277.81V863.04H281.16V862.20H281.72V860.52H282.28V858.84H282.84V857.16H283.40V855.21H283.96V853.25H284.52V851.29H284.94V849.61H285.36V847.93H287.88V847.09H288.44V845.13H289.00V843.18H289.56V841.22H290.40V839.54H291.24V837.86H292.08V836.18H293.33V834.50H294.59V832.82H295.43V831.14H296.27V829.47H296.83V827.79H297.39V826.11H297.95V824.43H301.31V823.59H306.34V823.59H306.76V822.33H307.18V821.07H313.06V821.07H313.48V819.56H313.90V818.05H334.88V817.71H335.72V815.53" fill="none" stroke="#d95319" stroke-width="1.0"/>
<path d="M94.00,960.20H127.84V959.34H127.84V957.58H134.41V955.40H147.55V953.21H157.40V952.11H160.69V949.92H162.88V948.50H165.07V947.07H167.26V945.76H169.45V944.45H171.09V942.80H172.73V941.16H174.92V939.74H177.11V938.32H178.75V937.00H180.40V935.69H182.58V933.94H186.96V933.94H187.51V931.91H188.06V929.89H188.61V927.86H189.15V925.84H190.25V923.65H191.34V921.46H193.53V919.27H195.72V917.08H197.36V915.43H199.01V913.79H203.39V911.60H205.03V909.41H206.67V907.22H209.96V905.58H213.24V903.94H214.33V902.11H215.43V900.29H216.52V898.47H220.90V897.37H222.55V895.18H224.19V892.99H226.38V891.35H228.57V889.71H230.21V888.06H231.85V886.42H232.40V884.23H232.95V882.04H233.49V879.85H234.04V877.66H235.68V876.24H237.33V874.82H237.52V874.79H240.88V874.45H242.13V872.94H243.39V871.43H245.91V869.75H246.75V868.08H247.59V866.40H248.43V864.72H250.95V863.88H252.21V862.62H253.47V861.36H254.72V859.68H255.98V858.00H256.40V856.32H256.82V854.65H259.34V852.97H261.02V850.87H262.70V848.77H263.54V846.67H264.38V844.57H265.64V842.90H266.90V841.22H268.15V839.96H269.41V838.70H272.77V837.86H274.03V835.76H275.29V833.66H278.65V831.48H286.20V831.14H287.04V829.89H287.88V828.63H291.24V827.79H294.59V826.95H297.95V825.27H299.63V823.59H301.31V821.91H305.51V821.07H308.86V820.74H309.28V819.06H309.70V817.38H311.38V816.04H314.74V815.53" fill="none" stroke="#0072bd" stroke-width="1.0"/>
<rect x="48.5" y="815.5" width="298.3" height="145.00" fill="none" stroke="#444444" stroke-width="1"/>
<line x1="116.30" y1="960.5" x2="116.30" y2="957.5" stroke="#444444" stroke-width="1"/>
<line x1="116.30" y1="815.5" x2="116.30" y2="818.5" stroke="#444444" stroke-width="1"/>
<line x1="184.09" y1="960.5" x2="184.09" y2="957.5" stroke="#444444" stroke-width="1"/>
<line x1="184.09" y1="815.5" x2="184.09" y2="818.5" stroke="#444444" stroke-width="1"/>
<line x1="251.89" y1="960.5" x2="251.89" y2="957.5" stroke="#444444" stroke-width="1"/>
<line x1="251.89" y1="815.5" x2="251.89" y2="818.5" stroke="#444444" stroke-width="1"/>
<line x1="319.68" y1="960.5" x2="319.68" y2="957.5" stroke="#444444" stroke-width="1"/>
<line x1="319.68" y1="815.5" x2="319.68" y2="818.5" stroke="#444444" stroke-width="1"/>
<line x1="48.5" y1="888.40" x2="51.5" y2="888.40" stroke="#444444" stroke-width="1"/>
<line x1="346.8" y1="888.40" x2="343.8" y2="888.40" stroke="#444444" stroke-width="1"/>
<text x="42.5" y="820.73" font-size="14.6" text-anchor="end" fill="#262626">1</text>
<text x="42.5" y="894.33" font-size="14.6" text-anchor="end" fill="#262626">0.5</text>
<text x="42.5" y="966.9300000000001" font-size="14.6" text-anchor="end" fill="#262626">0</text>
<text x="109.3" y="808.2" font-size="15.7" font-weight="bold" textLength="177.0" lengthAdjust="spacingAndGlyphs" fill="#000">Medial parieto-occipital</text>
<text x="40.85" y="981.1" font-size="14.6" textLength="15.3" lengthAdjust="spacingAndGlyphs" fill="#262626">30</text>
<text x="108.64545454545454" y="981.1" font-size="14.6" textLength="15.3" lengthAdjust="spacingAndGlyphs" fill="#262626">35</text>
<text x="176.4409090909091" y="981.1" font-size="14.6" textLength="15.3" lengthAdjust="spacingAndGlyphs" fill="#262626">40</text>
<text x="244.23636363636365" y="981.1" font-size="14.6" textLength="15.3" lengthAdjust="spacingAndGlyphs" fill="#262626">45</text>
<text x="312.0318181818182" y="981.1" font-size="14.6" textLength="15.3" lengthAdjust="spacingAndGlyphs" fill="#262626">50</text>
<line x1="452.73" y1="815.5" x2="452.73" y2="960.5" stroke="#e2e2e2" stroke-width="1"/>
<line x1="520.45" y1="815.5" x2="520.45" y2="960.5" stroke="#e2e2e2" stroke-width="1"/>
<line x1="588.18" y1="815.5" x2="588.18" y2="960.5" stroke="#e2e2e2" stroke-width="1"/>
<line x1="655.91" y1="815.5" x2="655.91" y2="960.5" stroke="#e2e2e2" stroke-width="1"/>
<line x1="385.0" y1="888.40" x2="683.0" y2="888.40" stroke="#e2e2e2" stroke-width="1"/>
<path d="M479.30,960.20H479.80V958.45H480.30V956.70H480.80V954.96H511.02V954.96H511.02V953.53H511.02V952.11H521.96V952.11H521.96V950.47H521.96V948.83H532.47V948.83H532.47V947.51H532.47V946.20H551.09V946.20H551.31V944.78H551.52V943.35H553.71V941.71H555.90V940.07H557.55V938.43H559.19V936.78H572.33V936.78H574.51V934.59H576.71V932.71H579.23V931.03H582.59V930.19H583.43V928.09H584.27V925.99H590.98V925.15H591.40V923.89H591.82V922.63H595.18V921.79H595.74V920.12H596.30V918.44H596.86V916.76H601.90V916.42H602.73V914.30H603.57V912.17H604.41V910.04H607.77V908.36H608.89V906.41H610.01V904.45H611.13V902.49H611.97V900.81H612.81V899.13H613.65V897.45H614.49V895.77H616.58V894.52H618.68V893.26H623.72V891.58H624.56V889.90H625.40V888.22H626.03V886.12H626.66V884.02H627.29V881.92H627.92V879.83H628.27V877.79H628.63V875.75H628.99V873.71H629.35V871.67H629.71V869.63H630.07V867.60H630.43V865.56H633.79V864.72H634.21V862.62H634.63V860.52H635.05V858.42H635.47V856.32H636.73V854.23H637.99V852.13H638.32V850.11H638.66V848.10H638.99V846.08H639.33V844.07H639.67V842.06H643.86V841.22H645.12V839.12H646.38V837.02H647.64V834.92H648.90V832.82H649.74V831.14H650.58V829.47H651.42V827.79H652.54V825.83H653.66V823.87H654.77V821.91H658.13V820.74H664.01V820.74H665.27V819.06H666.53V817.38H667.70V815.53" fill="none" stroke="#d95319" stroke-width="1.0"/>
<path d="M439.20,960.20H439.20V959.77H502.26V959.77H502.26V958.24H521.96V958.24H523.06V957.04H524.15V955.83H526.89V954.52H529.63V953.21H537.29V952.11H542.77V950.58H548.24V948.39H550.43V946.97H552.62V945.54H555.90V943.35H557.55V941.93H559.19V940.51H563.57V940.07H566.85V937.88H570.14V935.69H571.78V934.37H573.42V933.06H576.70V931.31H576.71V931.31H578.39V929.91H580.07V928.51H581.33V926.83H582.59V925.15H583.01V923.30H583.43V921.46H584.55V919.89H585.67V918.32H586.79V916.76H587.91V915.08H589.03V913.40H590.14V911.72H593.50V910.04H594.76V908.78H596.02V907.53H597.28V906.27H598.54V905.01H599.17V902.91H599.80V900.81H600.43V898.71H601.06V896.61H601.90V894.93H602.73V893.26H603.57V891.58H604.83V890.32H606.09V889.06H606.65V887.38H607.21V885.70H607.77V884.02H610.29V883.18H610.85V881.51H611.41V879.83H611.97V878.15H613.23V876.89H614.49V875.63H618.68V874.45H619.31V872.44H619.94V870.43H620.57V868.41H621.20V866.40H622.88V864.72H624.56V863.04H626.24V861.78H627.92V860.52H628.75V858.84H629.59V857.16H630.43V855.49H632.11V853.39H633.79V851.29H634.63V849.61H635.47V847.93H636.31V846.25H637.15V844.57H637.57V842.90H637.99V841.22H638.41V839.54H638.83V837.86H640.09V836.18H641.34V834.50H642.46V832.82H643.58V831.14H644.70V829.47H648.06V828.12H649.32V826.95H650.58V825.77H653.93V823.59H655.61V821.49H657.29V819.39H664.01V819.06H665.27V817.55H666.53V816.04" fill="none" stroke="#0072bd" stroke-width="1.0"/>
<rect x="385.0" y="815.5" width="298.0" height="145.00" fill="none" stroke="#444444" stroke-width="1"/>
<line x1="452.73" y1="960.5" x2="452.73" y2="957.5" stroke="#444444" stroke-width="1"/>
<line x1="452.73" y1="815.5" x2="452.73" y2="818.5" stroke="#444444" stroke-width="1"/>
<line x1="520.45" y1="960.5" x2="520.45" y2="957.5" stroke="#444444" stroke-width="1"/>
<line x1="520.45" y1="815.5" x2="520.45" y2="818.5" stroke="#444444" stroke-width="1"/>
<line x1="588.18" y1="960.5" x2="588.18" y2="957.5" stroke="#444444" stroke-width="1"/>
<line x1="588.18" y1="815.5" x2="588.18" y2="818.5" stroke="#444444" stroke-width="1"/>
<line x1="655.91" y1="960.5" x2="655.91" y2="957.5" stroke="#444444" stroke-width="1"/>
<line x1="655.91" y1="815.5" x2="655.91" y2="818.5" stroke="#444444" stroke-width="1"/>
<line x1="385.0" y1="888.40" x2="388.0" y2="888.40" stroke="#444444" stroke-width="1"/>
<line x1="683.0" y1="888.40" x2="680.0" y2="888.40" stroke="#444444" stroke-width="1"/>
<text x="497.0" y="808.2" font-size="15.7" font-weight="bold" textLength="74.1" lengthAdjust="spacingAndGlyphs" fill="#000">Periphery</text>
<text x="377.35" y="981.1" font-size="14.6" textLength="15.3" lengthAdjust="spacingAndGlyphs" fill="#262626">30</text>
<text x="445.07727272727277" y="981.1" font-size="14.6" textLength="15.3" lengthAdjust="spacingAndGlyphs" fill="#262626">35</text>
<text x="512.8045454545455" y="981.1" font-size="14.6" textLength="15.3" lengthAdjust="spacingAndGlyphs" fill="#262626">40</text>
<text x="580.5318181818183" y="981.1" font-size="14.6" textLength="15.3" lengthAdjust="spacingAndGlyphs" fill="#262626">45</text>
<text x="648.2590909090909" y="981.1" font-size="14.6" textLength="15.3" lengthAdjust="spacingAndGlyphs" fill="#262626">50</text>
<rect x="392.4" y="822.4" width="116.4" height="38.0" fill="#fff" stroke="#262626" stroke-width="1"/>
<line x1="395.3" y1="831.9" x2="422.5" y2="831.9" stroke="#0072bd" stroke-width="1.15"/>
<line x1="395.3" y1="850.9" x2="422.5" y2="850.9" stroke="#d95319" stroke-width="1.15"/>
<text x="425.0" y="838.0" font-size="14.6" textLength="52.1" lengthAdjust="spacingAndGlyphs" fill="#000">Controls</text>
<text x="425.0" y="855.4" font-size="14.6" textLength="80.1" lengthAdjust="spacingAndGlyphs" fill="#000">SCZ. patients</text>
<text x="293.8" y="1015.7" font-size="18.2" textLength="130" lengthAdjust="spacingAndGlyphs" fill="#000">x = SampEn area</text>
<text transform="translate(14.9,631) rotate(-90)" font-size="18.4" textLength="52.9" lengthAdjust="spacingAndGlyphs" fill="#000">CDF(x)</text></svg>
</body></html>
